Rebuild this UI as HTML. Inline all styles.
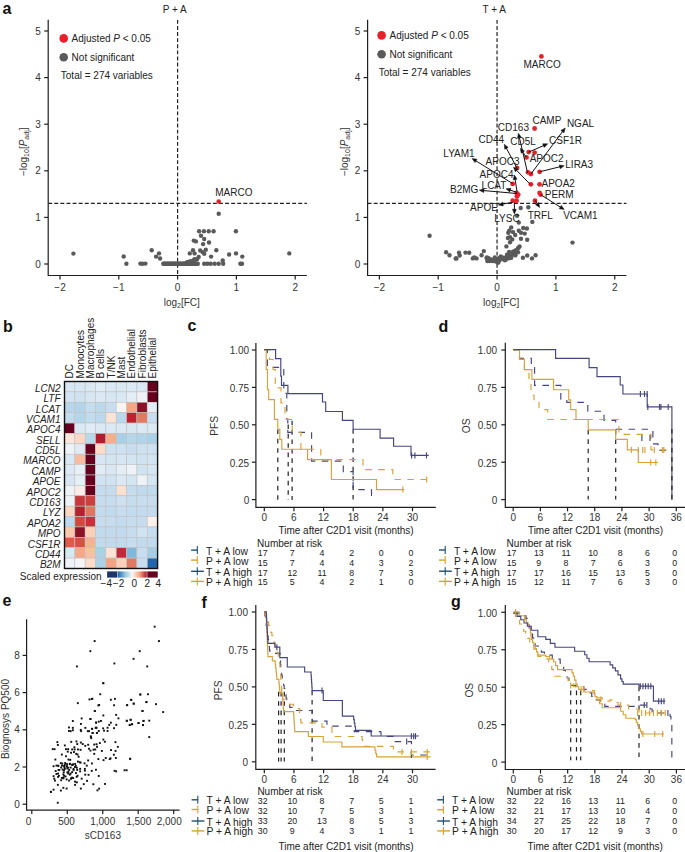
<!DOCTYPE html>
<html><head><meta charset="utf-8"><style>
html,body{margin:0;padding:0;background:#fff;width:685px;height:852px;overflow:hidden}
svg{display:block}
text{font-family:"Liberation Sans",sans-serif}
</style></head><body>
<svg width="685" height="852" viewBox="0 0 685 852">
<rect width="685" height="852" fill="#fff"/>
<text x="2.5" y="13.6" font-size="16" font-weight="bold" fill="#111">a</text>
<line x1="177.60" y1="19.90" x2="177.60" y2="275.50" stroke="#222" stroke-width="1.2" stroke-dasharray="3.9 2.2"/>
<line x1="48.20" y1="203.37" x2="306.90" y2="203.37" stroke="#222" stroke-width="1.2" stroke-dasharray="3.9 2.2"/>
<path d="M48.20 19.7 V275.50 H306.90" fill="none" stroke="#1e1e1e" stroke-width="1.2"/>
<line x1="44.20" y1="264.00" x2="48.20" y2="264.00" stroke="#1e1e1e" stroke-width="1.2" />
<text x="40.8" y="267.6" font-size="10" text-anchor="end" fill="#333" >0</text>
<line x1="44.20" y1="217.40" x2="48.20" y2="217.40" stroke="#1e1e1e" stroke-width="1.2" />
<text x="40.8" y="221.0" font-size="10" text-anchor="end" fill="#333" >1</text>
<line x1="44.20" y1="170.80" x2="48.20" y2="170.80" stroke="#1e1e1e" stroke-width="1.2" />
<text x="40.8" y="174.4" font-size="10" text-anchor="end" fill="#333" >2</text>
<line x1="44.20" y1="124.20" x2="48.20" y2="124.20" stroke="#1e1e1e" stroke-width="1.2" />
<text x="40.8" y="127.8" font-size="10" text-anchor="end" fill="#333" >3</text>
<line x1="44.20" y1="77.60" x2="48.20" y2="77.60" stroke="#1e1e1e" stroke-width="1.2" />
<text x="40.8" y="81.2" font-size="10" text-anchor="end" fill="#333" >4</text>
<line x1="44.20" y1="31.00" x2="48.20" y2="31.00" stroke="#1e1e1e" stroke-width="1.2" />
<text x="40.8" y="34.6" font-size="10" text-anchor="end" fill="#333" >5</text>
<line x1="60.00" y1="275.50" x2="60.00" y2="279.50" stroke="#1e1e1e" stroke-width="1.2" />
<text x="60.0" y="290.9" font-size="10" text-anchor="middle" fill="#333" >&#8722;2</text>
<line x1="118.80" y1="275.50" x2="118.80" y2="279.50" stroke="#1e1e1e" stroke-width="1.2" />
<text x="118.8" y="290.9" font-size="10" text-anchor="middle" fill="#333" >&#8722;1</text>
<line x1="177.60" y1="275.50" x2="177.60" y2="279.50" stroke="#1e1e1e" stroke-width="1.2" />
<text x="177.6" y="290.9" font-size="10" text-anchor="middle" fill="#333" >0</text>
<line x1="236.40" y1="275.50" x2="236.40" y2="279.50" stroke="#1e1e1e" stroke-width="1.2" />
<text x="236.4" y="290.9" font-size="10" text-anchor="middle" fill="#333" >1</text>
<line x1="295.20" y1="275.50" x2="295.20" y2="279.50" stroke="#1e1e1e" stroke-width="1.2" />
<text x="295.2" y="290.9" font-size="10" text-anchor="middle" fill="#333" >2</text>
<text x="181.8" y="306.0" font-size="10" text-anchor="middle" fill="#333" >log<tspan font-size="7" dy="2">2</tspan><tspan dy="-2">[FC]</tspan></text>
<text transform="translate(26.6,151.8) rotate(-90)" font-size="10" text-anchor="middle" fill="#333">&#8722;log<tspan font-size="7" dy="2">10</tspan><tspan dy="-2">[</tspan><tspan font-style="italic">P</tspan><tspan font-size="7" dy="2">adj</tspan><tspan dy="-2">]</tspan></text>
<text x="174.7" y="12.8" font-size="10" text-anchor="middle" fill="#222" >P + A</text>
<circle cx="63.7" cy="38.4" r="4.3" fill="#e8202a"/>
<circle cx="63.7" cy="57.3" r="4.3" fill="#5a5a5a"/>
<text x="71.6" y="42.0" font-size="10" text-anchor="start" fill="#222" >Adjusted <tspan font-style="italic">P</tspan> &lt; 0.05</text>
<text x="71.6" y="60.9" font-size="10" text-anchor="start" fill="#222" >Not significant</text>
<text x="60.8" y="78.8" font-size="10" text-anchor="start" fill="#222" >Total = 274 variables</text>
<circle cx="73.4" cy="253.6" r="2.2" fill="#5a5a5a"/>
<circle cx="123.7" cy="256.5" r="2.2" fill="#5a5a5a"/>
<circle cx="126.4" cy="263.8" r="2.2" fill="#5a5a5a"/>
<circle cx="140.4" cy="263.6" r="2.2" fill="#5a5a5a"/>
<circle cx="145.4" cy="263.6" r="2.2" fill="#5a5a5a"/>
<circle cx="142.4" cy="263.7" r="2.2" fill="#5a5a5a"/>
<circle cx="199.1" cy="231.2" r="2.2" fill="#5a5a5a"/>
<circle cx="203.9" cy="231.2" r="2.2" fill="#5a5a5a"/>
<circle cx="208.7" cy="231.2" r="2.2" fill="#5a5a5a"/>
<circle cx="213.6" cy="231.2" r="2.2" fill="#5a5a5a"/>
<circle cx="235.9" cy="231.2" r="2.2" fill="#5a5a5a"/>
<circle cx="201.0" cy="235.7" r="2.2" fill="#5a5a5a"/>
<circle cx="204.2" cy="239.0" r="2.2" fill="#5a5a5a"/>
<circle cx="193.8" cy="240.6" r="2.2" fill="#5a5a5a"/>
<circle cx="195.9" cy="241.4" r="2.2" fill="#5a5a5a"/>
<circle cx="209.0" cy="242.5" r="2.2" fill="#5a5a5a"/>
<circle cx="203.1" cy="244.1" r="2.2" fill="#5a5a5a"/>
<circle cx="151.7" cy="250.2" r="2.2" fill="#5a5a5a"/>
<circle cx="193.0" cy="250.2" r="2.2" fill="#5a5a5a"/>
<circle cx="200.2" cy="250.5" r="2.2" fill="#5a5a5a"/>
<circle cx="202.6" cy="252.1" r="2.2" fill="#5a5a5a"/>
<circle cx="204.2" cy="253.7" r="2.2" fill="#5a5a5a"/>
<circle cx="205.8" cy="249.7" r="2.2" fill="#5a5a5a"/>
<circle cx="216.3" cy="250.2" r="2.2" fill="#5a5a5a"/>
<circle cx="159.0" cy="253.4" r="2.2" fill="#5a5a5a"/>
<circle cx="156.1" cy="256.6" r="2.2" fill="#5a5a5a"/>
<circle cx="160.1" cy="258.5" r="2.2" fill="#5a5a5a"/>
<circle cx="189.8" cy="253.4" r="2.2" fill="#5a5a5a"/>
<circle cx="194.6" cy="253.4" r="2.2" fill="#5a5a5a"/>
<circle cx="229.1" cy="254.5" r="2.2" fill="#5a5a5a"/>
<circle cx="236.0" cy="253.4" r="2.2" fill="#5a5a5a"/>
<circle cx="242.3" cy="256.6" r="2.2" fill="#5a5a5a"/>
<circle cx="211.1" cy="256.6" r="2.2" fill="#5a5a5a"/>
<circle cx="204.2" cy="263.7" r="2.2" fill="#5a5a5a"/>
<circle cx="207.4" cy="263.7" r="2.2" fill="#5a5a5a"/>
<circle cx="210.7" cy="263.7" r="2.2" fill="#5a5a5a"/>
<circle cx="214.7" cy="263.7" r="2.2" fill="#5a5a5a"/>
<circle cx="218.7" cy="263.7" r="2.2" fill="#5a5a5a"/>
<circle cx="223.2" cy="263.7" r="2.2" fill="#5a5a5a"/>
<circle cx="240.4" cy="263.7" r="2.2" fill="#5a5a5a"/>
<circle cx="242.0" cy="263.7" r="2.2" fill="#5a5a5a"/>
<circle cx="222.7" cy="260.5" r="2.2" fill="#5a5a5a"/>
<circle cx="289.3" cy="253.4" r="2.2" fill="#5a5a5a"/>
<circle cx="218.7" cy="213.7" r="2.2" fill="#5a5a5a"/>
<circle cx="163.3" cy="263.7" r="2.2" fill="#5a5a5a"/>
<circle cx="164.2" cy="263.7" r="2.2" fill="#5a5a5a"/>
<circle cx="165.1" cy="263.7" r="2.2" fill="#5a5a5a"/>
<circle cx="166.0" cy="263.7" r="2.2" fill="#5a5a5a"/>
<circle cx="166.8" cy="263.7" r="2.2" fill="#5a5a5a"/>
<circle cx="167.7" cy="263.7" r="2.2" fill="#5a5a5a"/>
<circle cx="168.6" cy="263.7" r="2.2" fill="#5a5a5a"/>
<circle cx="169.5" cy="263.7" r="2.2" fill="#5a5a5a"/>
<circle cx="170.4" cy="263.7" r="2.2" fill="#5a5a5a"/>
<circle cx="171.3" cy="263.7" r="2.2" fill="#5a5a5a"/>
<circle cx="172.1" cy="263.7" r="2.2" fill="#5a5a5a"/>
<circle cx="173.0" cy="263.7" r="2.2" fill="#5a5a5a"/>
<circle cx="173.9" cy="263.7" r="2.2" fill="#5a5a5a"/>
<circle cx="174.8" cy="263.7" r="2.2" fill="#5a5a5a"/>
<circle cx="175.7" cy="263.7" r="2.2" fill="#5a5a5a"/>
<circle cx="176.6" cy="263.7" r="2.2" fill="#5a5a5a"/>
<circle cx="177.5" cy="263.7" r="2.2" fill="#5a5a5a"/>
<circle cx="178.3" cy="263.7" r="2.2" fill="#5a5a5a"/>
<circle cx="179.2" cy="263.7" r="2.2" fill="#5a5a5a"/>
<circle cx="180.1" cy="263.7" r="2.2" fill="#5a5a5a"/>
<circle cx="181.0" cy="263.7" r="2.2" fill="#5a5a5a"/>
<circle cx="181.9" cy="263.7" r="2.2" fill="#5a5a5a"/>
<circle cx="182.8" cy="263.7" r="2.2" fill="#5a5a5a"/>
<circle cx="183.6" cy="263.7" r="2.2" fill="#5a5a5a"/>
<circle cx="184.5" cy="263.7" r="2.2" fill="#5a5a5a"/>
<circle cx="185.4" cy="263.7" r="2.2" fill="#5a5a5a"/>
<circle cx="186.3" cy="263.7" r="2.2" fill="#5a5a5a"/>
<circle cx="187.2" cy="263.7" r="2.2" fill="#5a5a5a"/>
<circle cx="188.1" cy="263.7" r="2.2" fill="#5a5a5a"/>
<circle cx="189.0" cy="263.7" r="2.2" fill="#5a5a5a"/>
<circle cx="189.8" cy="263.7" r="2.2" fill="#5a5a5a"/>
<circle cx="190.7" cy="263.7" r="2.2" fill="#5a5a5a"/>
<circle cx="191.6" cy="263.7" r="2.2" fill="#5a5a5a"/>
<circle cx="192.5" cy="263.7" r="2.2" fill="#5a5a5a"/>
<circle cx="193.4" cy="263.7" r="2.2" fill="#5a5a5a"/>
<circle cx="194.3" cy="263.7" r="2.2" fill="#5a5a5a"/>
<circle cx="195.1" cy="263.7" r="2.2" fill="#5a5a5a"/>
<circle cx="196.0" cy="263.7" r="2.2" fill="#5a5a5a"/>
<circle cx="196.9" cy="263.7" r="2.2" fill="#5a5a5a"/>
<circle cx="197.8" cy="263.7" r="2.2" fill="#5a5a5a"/>
<circle cx="190.2" cy="261.2" r="2.2" fill="#5a5a5a"/>
<circle cx="194.5" cy="259.1" r="2.2" fill="#5a5a5a"/>
<circle cx="193.0" cy="260.8" r="2.2" fill="#5a5a5a"/>
<circle cx="186.8" cy="262.8" r="2.2" fill="#5a5a5a"/>
<circle cx="186.5" cy="262.9" r="2.2" fill="#5a5a5a"/>
<circle cx="186.9" cy="262.6" r="2.2" fill="#5a5a5a"/>
<circle cx="191.5" cy="262.5" r="2.2" fill="#5a5a5a"/>
<circle cx="187.6" cy="262.4" r="2.2" fill="#5a5a5a"/>
<circle cx="194.2" cy="262.8" r="2.2" fill="#5a5a5a"/>
<circle cx="193.5" cy="260.7" r="2.2" fill="#5a5a5a"/>
<circle cx="198.7" cy="256.9" r="2.2" fill="#5a5a5a"/>
<circle cx="197.2" cy="259.0" r="2.2" fill="#5a5a5a"/>
<circle cx="187.9" cy="262.2" r="2.2" fill="#5a5a5a"/>
<circle cx="190.0" cy="262.6" r="2.2" fill="#5a5a5a"/>
<circle cx="188.3" cy="262.5" r="2.2" fill="#5a5a5a"/>
<circle cx="194.3" cy="260.4" r="2.2" fill="#5a5a5a"/>
<circle cx="218.7" cy="201.5" r="2.3" fill="#e8202a"/>
<text x="233.9" y="195.7" font-size="10" text-anchor="middle" fill="#222" >MARCO</text>
<line x1="497.05" y1="19.90" x2="497.05" y2="275.50" stroke="#222" stroke-width="1.2" stroke-dasharray="3.9 2.2"/>
<line x1="367.60" y1="203.37" x2="626.40" y2="203.37" stroke="#222" stroke-width="1.2" stroke-dasharray="3.9 2.2"/>
<path d="M367.60 19.7 V275.50 H626.40" fill="none" stroke="#1e1e1e" stroke-width="1.2"/>
<line x1="363.60" y1="264.00" x2="367.60" y2="264.00" stroke="#1e1e1e" stroke-width="1.2" />
<text x="360.4" y="267.6" font-size="10" text-anchor="end" fill="#333" >0</text>
<line x1="363.60" y1="217.40" x2="367.60" y2="217.40" stroke="#1e1e1e" stroke-width="1.2" />
<text x="360.4" y="221.0" font-size="10" text-anchor="end" fill="#333" >1</text>
<line x1="363.60" y1="170.80" x2="367.60" y2="170.80" stroke="#1e1e1e" stroke-width="1.2" />
<text x="360.4" y="174.4" font-size="10" text-anchor="end" fill="#333" >2</text>
<line x1="363.60" y1="124.20" x2="367.60" y2="124.20" stroke="#1e1e1e" stroke-width="1.2" />
<text x="360.4" y="127.8" font-size="10" text-anchor="end" fill="#333" >3</text>
<line x1="363.60" y1="77.60" x2="367.60" y2="77.60" stroke="#1e1e1e" stroke-width="1.2" />
<text x="360.4" y="81.2" font-size="10" text-anchor="end" fill="#333" >4</text>
<line x1="363.60" y1="31.00" x2="367.60" y2="31.00" stroke="#1e1e1e" stroke-width="1.2" />
<text x="360.4" y="34.6" font-size="10" text-anchor="end" fill="#333" >5</text>
<line x1="379.35" y1="275.50" x2="379.35" y2="279.50" stroke="#1e1e1e" stroke-width="1.2" />
<text x="379.4" y="290.9" font-size="10" text-anchor="middle" fill="#333" >&#8722;2</text>
<line x1="438.20" y1="275.50" x2="438.20" y2="279.50" stroke="#1e1e1e" stroke-width="1.2" />
<text x="438.2" y="290.9" font-size="10" text-anchor="middle" fill="#333" >&#8722;1</text>
<line x1="497.05" y1="275.50" x2="497.05" y2="279.50" stroke="#1e1e1e" stroke-width="1.2" />
<text x="497.1" y="290.9" font-size="10" text-anchor="middle" fill="#333" >0</text>
<line x1="555.90" y1="275.50" x2="555.90" y2="279.50" stroke="#1e1e1e" stroke-width="1.2" />
<text x="555.9" y="290.9" font-size="10" text-anchor="middle" fill="#333" >1</text>
<line x1="614.75" y1="275.50" x2="614.75" y2="279.50" stroke="#1e1e1e" stroke-width="1.2" />
<text x="614.8" y="290.9" font-size="10" text-anchor="middle" fill="#333" >2</text>
<text x="501.2" y="306.0" font-size="10" text-anchor="middle" fill="#333" >log<tspan font-size="7" dy="2">2</tspan><tspan dy="-2">[FC]</tspan></text>
<text transform="translate(347.8,151.8) rotate(-90)" font-size="10" text-anchor="middle" fill="#333">&#8722;log<tspan font-size="7" dy="2">10</tspan><tspan dy="-2">[</tspan><tspan font-style="italic">P</tspan><tspan font-size="7" dy="2">adj</tspan><tspan dy="-2">]</tspan></text>
<text x="494.2" y="12.8" font-size="10" text-anchor="middle" fill="#222" >T + A</text>
<circle cx="381.6" cy="35.4" r="4.3" fill="#e8202a"/>
<circle cx="381.6" cy="54.2" r="4.3" fill="#5a5a5a"/>
<text x="389.5" y="39.0" font-size="10" text-anchor="start" fill="#222" >Adjusted <tspan font-style="italic">P</tspan> &lt; 0.05</text>
<text x="389.5" y="57.8" font-size="10" text-anchor="start" fill="#222" >Not significant</text>
<text x="378.7" y="75.6" font-size="10" text-anchor="start" fill="#222" >Total = 274 variables</text>
<circle cx="429.6" cy="235.8" r="2.2" fill="#5a5a5a"/>
<circle cx="572.5" cy="242.6" r="2.2" fill="#5a5a5a"/>
<circle cx="520.7" cy="208.0" r="2.2" fill="#5a5a5a"/>
<circle cx="528.3" cy="207.3" r="2.2" fill="#5a5a5a"/>
<circle cx="517.1" cy="215.8" r="2.2" fill="#5a5a5a"/>
<circle cx="518.8" cy="222.6" r="2.2" fill="#5a5a5a"/>
<circle cx="532.3" cy="221.9" r="2.2" fill="#5a5a5a"/>
<circle cx="511.2" cy="227.4" r="2.2" fill="#5a5a5a"/>
<circle cx="523.2" cy="228.0" r="2.2" fill="#5a5a5a"/>
<circle cx="526.9" cy="228.5" r="2.2" fill="#5a5a5a"/>
<circle cx="509.3" cy="230.7" r="2.2" fill="#5a5a5a"/>
<circle cx="508.3" cy="232.8" r="2.2" fill="#5a5a5a"/>
<circle cx="513.0" cy="232.1" r="2.2" fill="#5a5a5a"/>
<circle cx="515.2" cy="235.0" r="2.2" fill="#5a5a5a"/>
<circle cx="518.8" cy="230.7" r="2.2" fill="#5a5a5a"/>
<circle cx="521.0" cy="232.8" r="2.2" fill="#5a5a5a"/>
<circle cx="524.7" cy="233.6" r="2.2" fill="#5a5a5a"/>
<circle cx="507.9" cy="238.0" r="2.2" fill="#5a5a5a"/>
<circle cx="510.0" cy="237.2" r="2.2" fill="#5a5a5a"/>
<circle cx="512.3" cy="239.4" r="2.2" fill="#5a5a5a"/>
<circle cx="510.0" cy="242.3" r="2.2" fill="#5a5a5a"/>
<circle cx="521.0" cy="238.7" r="2.2" fill="#5a5a5a"/>
<circle cx="527.2" cy="239.7" r="2.2" fill="#5a5a5a"/>
<circle cx="506.4" cy="246.4" r="2.2" fill="#5a5a5a"/>
<circle cx="519.6" cy="246.4" r="2.2" fill="#5a5a5a"/>
<circle cx="446.1" cy="252.3" r="2.2" fill="#5a5a5a"/>
<circle cx="449.5" cy="255.2" r="2.2" fill="#5a5a5a"/>
<circle cx="456.4" cy="258.4" r="2.2" fill="#5a5a5a"/>
<circle cx="459.0" cy="252.8" r="2.2" fill="#5a5a5a"/>
<circle cx="459.7" cy="255.5" r="2.2" fill="#5a5a5a"/>
<circle cx="465.5" cy="252.6" r="2.2" fill="#5a5a5a"/>
<circle cx="469.2" cy="252.8" r="2.2" fill="#5a5a5a"/>
<circle cx="472.8" cy="258.4" r="2.2" fill="#5a5a5a"/>
<circle cx="476.5" cy="258.4" r="2.2" fill="#5a5a5a"/>
<circle cx="481.6" cy="255.2" r="2.2" fill="#5a5a5a"/>
<circle cx="483.8" cy="251.1" r="2.2" fill="#5a5a5a"/>
<circle cx="486.7" cy="258.1" r="2.2" fill="#5a5a5a"/>
<circle cx="489.6" cy="261.0" r="2.2" fill="#5a5a5a"/>
<circle cx="491.8" cy="259.6" r="2.2" fill="#5a5a5a"/>
<circle cx="495.5" cy="261.3" r="2.2" fill="#5a5a5a"/>
<circle cx="497.7" cy="259.9" r="2.2" fill="#5a5a5a"/>
<circle cx="522.9" cy="257.7" r="2.2" fill="#5a5a5a"/>
<circle cx="527.2" cy="255.5" r="2.2" fill="#5a5a5a"/>
<circle cx="532.0" cy="258.4" r="2.2" fill="#5a5a5a"/>
<circle cx="535.6" cy="255.2" r="2.2" fill="#5a5a5a"/>
<circle cx="474.3" cy="257.4" r="2.2" fill="#5a5a5a"/>
<circle cx="455.7" cy="258.5" r="2.2" fill="#5a5a5a"/>
<circle cx="509.1" cy="251.9" r="2.2" fill="#5a5a5a"/>
<circle cx="498.3" cy="258.4" r="2.2" fill="#5a5a5a"/>
<circle cx="512.0" cy="253.2" r="2.2" fill="#5a5a5a"/>
<circle cx="503.9" cy="258.4" r="2.2" fill="#5a5a5a"/>
<circle cx="507.0" cy="254.8" r="2.2" fill="#5a5a5a"/>
<circle cx="514.5" cy="254.0" r="2.2" fill="#5a5a5a"/>
<circle cx="502.4" cy="259.1" r="2.2" fill="#5a5a5a"/>
<circle cx="508.6" cy="258.3" r="2.2" fill="#5a5a5a"/>
<circle cx="513.0" cy="251.6" r="2.2" fill="#5a5a5a"/>
<circle cx="518.6" cy="247.6" r="2.2" fill="#5a5a5a"/>
<circle cx="506.2" cy="258.6" r="2.2" fill="#5a5a5a"/>
<circle cx="500.3" cy="259.5" r="2.2" fill="#5a5a5a"/>
<circle cx="497.9" cy="262.1" r="2.2" fill="#5a5a5a"/>
<circle cx="513.8" cy="253.4" r="2.2" fill="#5a5a5a"/>
<circle cx="516.3" cy="250.2" r="2.2" fill="#5a5a5a"/>
<circle cx="512.3" cy="254.3" r="2.2" fill="#5a5a5a"/>
<circle cx="509.8" cy="254.5" r="2.2" fill="#5a5a5a"/>
<circle cx="515.5" cy="255.3" r="2.2" fill="#5a5a5a"/>
<circle cx="507.4" cy="257.3" r="2.2" fill="#5a5a5a"/>
<circle cx="498.3" cy="262.1" r="2.2" fill="#5a5a5a"/>
<circle cx="511.2" cy="257.8" r="2.2" fill="#5a5a5a"/>
<circle cx="515.1" cy="250.6" r="2.2" fill="#5a5a5a"/>
<circle cx="505.5" cy="258.3" r="2.2" fill="#5a5a5a"/>
<circle cx="497.5" cy="260.7" r="2.2" fill="#5a5a5a"/>
<circle cx="500.7" cy="256.5" r="2.2" fill="#5a5a5a"/>
<circle cx="498.3" cy="262.6" r="2.2" fill="#5a5a5a"/>
<circle cx="499.8" cy="257.9" r="2.2" fill="#5a5a5a"/>
<circle cx="505.6" cy="259.7" r="2.2" fill="#5a5a5a"/>
<circle cx="498.8" cy="260.0" r="2.2" fill="#5a5a5a"/>
<circle cx="509.1" cy="258.1" r="2.2" fill="#5a5a5a"/>
<circle cx="515.0" cy="255.0" r="2.2" fill="#5a5a5a"/>
<circle cx="503.1" cy="257.6" r="2.2" fill="#5a5a5a"/>
<circle cx="504.9" cy="260.2" r="2.2" fill="#5a5a5a"/>
<circle cx="518.1" cy="248.1" r="2.2" fill="#5a5a5a"/>
<circle cx="500.9" cy="257.3" r="2.2" fill="#5a5a5a"/>
<circle cx="502.1" cy="258.6" r="2.2" fill="#5a5a5a"/>
<circle cx="510.0" cy="253.0" r="2.2" fill="#5a5a5a"/>
<circle cx="497.1" cy="260.6" r="2.2" fill="#5a5a5a"/>
<circle cx="505.1" cy="257.7" r="2.2" fill="#5a5a5a"/>
<circle cx="518.0" cy="252.2" r="2.2" fill="#5a5a5a"/>
<circle cx="492.7" cy="261.0" r="2.2" fill="#5a5a5a"/>
<circle cx="494.8" cy="257.4" r="2.2" fill="#5a5a5a"/>
<circle cx="497.7" cy="262.1" r="2.2" fill="#5a5a5a"/>
<circle cx="497.4" cy="262.2" r="2.2" fill="#5a5a5a"/>
<circle cx="491.1" cy="259.6" r="2.2" fill="#5a5a5a"/>
<circle cx="487.3" cy="261.1" r="2.2" fill="#5a5a5a"/>
<circle cx="486.8" cy="257.4" r="2.2" fill="#5a5a5a"/>
<circle cx="488.7" cy="258.1" r="2.2" fill="#5a5a5a"/>
<circle cx="541.4" cy="56.4" r="2.4" fill="#e8202a"/>
<circle cx="534.6" cy="128.5" r="2.4" fill="#e8202a"/>
<circle cx="528.7" cy="152.1" r="2.4" fill="#e8202a"/>
<circle cx="534.6" cy="152.6" r="2.4" fill="#e8202a"/>
<circle cx="526.5" cy="157.4" r="2.4" fill="#e8202a"/>
<circle cx="517.1" cy="167.9" r="2.4" fill="#e8202a"/>
<circle cx="528.0" cy="172.3" r="2.4" fill="#e8202a"/>
<circle cx="530.9" cy="174.0" r="2.4" fill="#e8202a"/>
<circle cx="539.6" cy="171.8" r="2.4" fill="#e8202a"/>
<circle cx="530.9" cy="184.3" r="2.4" fill="#e8202a"/>
<circle cx="539.6" cy="184.3" r="2.4" fill="#e8202a"/>
<circle cx="512.7" cy="183.9" r="2.4" fill="#e8202a"/>
<circle cx="516.6" cy="193.0" r="2.4" fill="#e8202a"/>
<circle cx="518.2" cy="194.6" r="2.4" fill="#e8202a"/>
<circle cx="517.0" cy="196.3" r="2.4" fill="#e8202a"/>
<circle cx="539.6" cy="193.0" r="2.4" fill="#e8202a"/>
<circle cx="540.5" cy="194.6" r="2.4" fill="#e8202a"/>
<circle cx="512.7" cy="200.7" r="2.4" fill="#e8202a"/>
<circle cx="516.6" cy="200.7" r="2.4" fill="#e8202a"/>
<circle cx="535.0" cy="200.7" r="2.4" fill="#e8202a"/>
<line x1="527.60" y1="172.90" x2="519.31" y2="137.20" stroke="#111" stroke-width="1.0" />
<path d="M521.34 137.35 L518.40 133.30 L517.55 138.23 Z" fill="#111" stroke="#111" stroke-width="0.5" stroke-linejoin="miter"/>
<line x1="517.00" y1="168.10" x2="506.18" y2="147.83" stroke="#111" stroke-width="1.0" />
<path d="M508.19 147.45 L504.30 144.30 L504.75 149.28 Z" fill="#111" stroke="#111" stroke-width="0.5" stroke-linejoin="miter"/>
<line x1="530.20" y1="184.30" x2="516.29" y2="170.06" stroke="#111" stroke-width="1.0" />
<path d="M518.11 169.13 L513.50 167.20 L515.32 171.86 Z" fill="#111" stroke="#111" stroke-width="0.5" stroke-linejoin="miter"/>
<line x1="526.20" y1="157.20" x2="522.51" y2="151.63" stroke="#111" stroke-width="1.0" />
<path d="M524.47 151.06 L520.30 148.30 L521.22 153.21 Z" fill="#111" stroke="#111" stroke-width="0.5" stroke-linejoin="miter"/>
<line x1="530.90" y1="174.00" x2="562.81" y2="131.21" stroke="#111" stroke-width="1.0" />
<path d="M564.01 132.86 L565.20 128.00 L560.89 130.53 Z" fill="#111" stroke="#111" stroke-width="0.5" stroke-linejoin="miter"/>
<line x1="528.70" y1="152.10" x2="544.03" y2="145.40" stroke="#111" stroke-width="1.0" />
<path d="M544.26 147.43 L547.70 143.80 L542.70 143.86 Z" fill="#111" stroke="#111" stroke-width="0.5" stroke-linejoin="miter"/>
<line x1="539.60" y1="171.80" x2="560.32" y2="166.66" stroke="#111" stroke-width="1.0" />
<path d="M560.20 168.70 L564.20 165.70 L559.26 164.92 Z" fill="#111" stroke="#111" stroke-width="0.5" stroke-linejoin="miter"/>
<line x1="512.60" y1="183.60" x2="475.50" y2="160.61" stroke="#111" stroke-width="1.0" />
<path d="M477.04 159.27 L472.10 158.50 L474.99 162.58 Z" fill="#111" stroke="#111" stroke-width="0.5" stroke-linejoin="miter"/>
<line x1="517.00" y1="193.50" x2="483.28" y2="190.55" stroke="#111" stroke-width="1.0" />
<path d="M484.06 188.66 L479.30 190.20 L483.72 192.54 Z" fill="#111" stroke="#111" stroke-width="0.5" stroke-linejoin="miter"/>
<line x1="517.00" y1="192.40" x2="509.79" y2="189.98" stroke="#111" stroke-width="1.0" />
<path d="M510.99 188.32 L506.00 188.70 L509.74 192.01 Z" fill="#111" stroke="#111" stroke-width="0.5" stroke-linejoin="miter"/>
<line x1="517.00" y1="191.30" x2="515.03" y2="178.85" stroke="#111" stroke-width="1.0" />
<path d="M517.04 179.14 L514.40 174.90 L513.20 179.75 Z" fill="#111" stroke="#111" stroke-width="0.5" stroke-linejoin="miter"/>
<line x1="512.60" y1="202.30" x2="502.33" y2="204.18" stroke="#111" stroke-width="1.0" />
<path d="M502.58 202.16 L498.40 204.90 L503.28 205.99 Z" fill="#111" stroke="#111" stroke-width="0.5" stroke-linejoin="miter"/>
<line x1="514.40" y1="202.30" x2="514.40" y2="209.90" stroke="#111" stroke-width="1.0" />
<path d="M512.45 209.29 L514.40 213.90 L516.35 209.29 Z" fill="#111" stroke="#111" stroke-width="0.5" stroke-linejoin="miter"/>
<line x1="540.50" y1="194.60" x2="560.81" y2="207.37" stroke="#111" stroke-width="1.0" />
<path d="M559.26 208.70 L564.20 209.50 L561.34 205.40 Z" fill="#111" stroke="#111" stroke-width="0.5" stroke-linejoin="miter"/>
<line x1="535.20" y1="200.50" x2="537.47" y2="204.11" stroke="#111" stroke-width="1.0" />
<path d="M535.50 204.64 L539.60 207.50 L538.80 202.56 Z" fill="#111" stroke="#111" stroke-width="0.5" stroke-linejoin="miter"/>
<text x="542.1" y="68.0" font-size="10" text-anchor="middle" fill="#222" >MARCO</text>
<text x="546.9" y="124.4" font-size="10" text-anchor="middle" fill="#222" >CAMP</text>
<text x="580.5" y="126.6" font-size="10" text-anchor="middle" fill="#222" >NGAL</text>
<text x="513.4" y="131.4" font-size="10" text-anchor="middle" fill="#222" >CD163</text>
<text x="491.4" y="143.0" font-size="10" text-anchor="middle" fill="#222" >CD44</text>
<text x="523.1" y="144.8" font-size="10" text-anchor="middle" fill="#222" >CD5L</text>
<text x="565.5" y="144.1" font-size="10" text-anchor="middle" fill="#222" >CSF1R</text>
<text x="546.6" y="162.3" font-size="10" text-anchor="middle" fill="#222" >APOC2</text>
<text x="502.5" y="164.5" font-size="10" text-anchor="middle" fill="#222" >APOC3</text>
<text x="579.2" y="168.2" font-size="10" text-anchor="middle" fill="#222" >LIRA3</text>
<text x="496.5" y="177.6" font-size="10" text-anchor="middle" fill="#222" >APOC4</text>
<text x="558.2" y="187.2" font-size="10" text-anchor="middle" fill="#222" >APOA2</text>
<text x="494.0" y="189.0" font-size="10" text-anchor="middle" fill="#222" >LCAT</text>
<text x="559.2" y="198.2" font-size="10" text-anchor="middle" fill="#222" >PERM</text>
<text x="580.4" y="218.6" font-size="10" text-anchor="middle" fill="#222" >VCAM1</text>
<text x="459.0" y="157.2" font-size="10" text-anchor="middle" fill="#222" >LYAM1</text>
<text x="464.2" y="192.6" font-size="10" text-anchor="middle" fill="#222" >B2MG</text>
<text x="484.0" y="211.3" font-size="10" text-anchor="middle" fill="#222" >APOE</text>
<text x="507.0" y="222.3" font-size="10" text-anchor="middle" fill="#222" >LYSC</text>
<text x="540.2" y="218.8" font-size="10" text-anchor="middle" fill="#222" >TRFL</text>
<text x="3.0" y="331.5" font-size="16" font-weight="bold" fill="#111">b</text>
<rect x="64.50" y="381.50" width="10.34" height="10.39" fill="#d6e6f2" stroke="#c2c2c2" stroke-width="0.6"/>
<rect x="74.84" y="381.50" width="10.34" height="10.39" fill="#d6e6f2" stroke="#c2c2c2" stroke-width="0.6"/>
<rect x="85.19" y="381.50" width="10.34" height="10.39" fill="#d9e8f3" stroke="#c2c2c2" stroke-width="0.6"/>
<rect x="95.53" y="381.50" width="10.34" height="10.39" fill="#dfebf5" stroke="#c2c2c2" stroke-width="0.6"/>
<rect x="105.88" y="381.50" width="10.34" height="10.39" fill="#dae9f4" stroke="#c2c2c2" stroke-width="0.6"/>
<rect x="116.22" y="381.50" width="10.34" height="10.39" fill="#d9e8f3" stroke="#c2c2c2" stroke-width="0.6"/>
<rect x="126.57" y="381.50" width="10.34" height="10.39" fill="#dbe9f4" stroke="#c2c2c2" stroke-width="0.6"/>
<rect x="136.91" y="381.50" width="10.34" height="10.39" fill="#dbe9f4" stroke="#c2c2c2" stroke-width="0.6"/>
<rect x="147.26" y="381.50" width="10.34" height="10.39" fill="#67001f" stroke="#c2c2c2" stroke-width="0.6"/>
<text x="60.5" y="391.7" font-size="10" text-anchor="end" fill="#222" font-style="italic">LCN2</text>
<rect x="64.50" y="391.89" width="10.34" height="10.39" fill="#d2e4f1" stroke="#c2c2c2" stroke-width="0.6"/>
<rect x="74.84" y="391.89" width="10.34" height="10.39" fill="#cfe2f0" stroke="#c2c2c2" stroke-width="0.6"/>
<rect x="85.19" y="391.89" width="10.34" height="10.39" fill="#d6e6f2" stroke="#c2c2c2" stroke-width="0.6"/>
<rect x="95.53" y="391.89" width="10.34" height="10.39" fill="#dbe9f4" stroke="#c2c2c2" stroke-width="0.6"/>
<rect x="105.88" y="391.89" width="10.34" height="10.39" fill="#d6e6f2" stroke="#c2c2c2" stroke-width="0.6"/>
<rect x="116.22" y="391.89" width="10.34" height="10.39" fill="#d9e8f3" stroke="#c2c2c2" stroke-width="0.6"/>
<rect x="126.57" y="391.89" width="10.34" height="10.39" fill="#e3eef6" stroke="#c2c2c2" stroke-width="0.6"/>
<rect x="136.91" y="391.89" width="10.34" height="10.39" fill="#f0f2f5" stroke="#c2c2c2" stroke-width="0.6"/>
<rect x="147.26" y="391.89" width="10.34" height="10.39" fill="#67001f" stroke="#c2c2c2" stroke-width="0.6"/>
<text x="60.5" y="402.1" font-size="10" text-anchor="end" fill="#222" font-style="italic">LTF</text>
<rect x="64.50" y="402.28" width="10.34" height="10.39" fill="#b7d6ea" stroke="#c2c2c2" stroke-width="0.6"/>
<rect x="74.84" y="402.28" width="10.34" height="10.39" fill="#b3d5e9" stroke="#c2c2c2" stroke-width="0.6"/>
<rect x="85.19" y="402.28" width="10.34" height="10.39" fill="#c3ddee" stroke="#c2c2c2" stroke-width="0.6"/>
<rect x="95.53" y="402.28" width="10.34" height="10.39" fill="#bcd9ec" stroke="#c2c2c2" stroke-width="0.6"/>
<rect x="105.88" y="402.28" width="10.34" height="10.39" fill="#c8def0" stroke="#c2c2c2" stroke-width="0.6"/>
<rect x="116.22" y="402.28" width="10.34" height="10.39" fill="#f7f5f0" stroke="#c2c2c2" stroke-width="0.6"/>
<rect x="126.57" y="402.28" width="10.34" height="10.39" fill="#f4a785" stroke="#c2c2c2" stroke-width="0.6"/>
<rect x="136.91" y="402.28" width="10.34" height="10.39" fill="#8a1328" stroke="#c2c2c2" stroke-width="0.6"/>
<rect x="147.26" y="402.28" width="10.34" height="10.39" fill="#e4eef6" stroke="#c2c2c2" stroke-width="0.6"/>
<text x="60.5" y="412.5" font-size="10" text-anchor="end" fill="#222" font-style="italic">LCAT</text>
<rect x="64.50" y="412.67" width="10.34" height="10.39" fill="#c2dced" stroke="#c2c2c2" stroke-width="0.6"/>
<rect x="74.84" y="412.67" width="10.34" height="10.39" fill="#b4d6ea" stroke="#c2c2c2" stroke-width="0.6"/>
<rect x="85.19" y="412.67" width="10.34" height="10.39" fill="#c0dcee" stroke="#c2c2c2" stroke-width="0.6"/>
<rect x="95.53" y="412.67" width="10.34" height="10.39" fill="#bcd8ec" stroke="#c2c2c2" stroke-width="0.6"/>
<rect x="105.88" y="412.67" width="10.34" height="10.39" fill="#fbe3d6" stroke="#c2c2c2" stroke-width="0.6"/>
<rect x="116.22" y="412.67" width="10.34" height="10.39" fill="#b8d8eb" stroke="#c2c2c2" stroke-width="0.6"/>
<rect x="126.57" y="412.67" width="10.34" height="10.39" fill="#c0202f" stroke="#c2c2c2" stroke-width="0.6"/>
<rect x="136.91" y="412.67" width="10.34" height="10.39" fill="#e07a62" stroke="#c2c2c2" stroke-width="0.6"/>
<rect x="147.26" y="412.67" width="10.34" height="10.39" fill="#c8def0" stroke="#c2c2c2" stroke-width="0.6"/>
<text x="60.5" y="422.8" font-size="10" text-anchor="end" fill="#222" font-style="italic">VCAM1</text>
<rect x="64.50" y="423.06" width="10.34" height="10.39" fill="#67001f" stroke="#c2c2c2" stroke-width="0.6"/>
<rect x="74.84" y="423.06" width="10.34" height="10.39" fill="#dbe9f4" stroke="#c2c2c2" stroke-width="0.6"/>
<rect x="85.19" y="423.06" width="10.34" height="10.39" fill="#e0ecf5" stroke="#c2c2c2" stroke-width="0.6"/>
<rect x="95.53" y="423.06" width="10.34" height="10.39" fill="#dbe9f4" stroke="#c2c2c2" stroke-width="0.6"/>
<rect x="105.88" y="423.06" width="10.34" height="10.39" fill="#dae9f4" stroke="#c2c2c2" stroke-width="0.6"/>
<rect x="116.22" y="423.06" width="10.34" height="10.39" fill="#dbe9f4" stroke="#c2c2c2" stroke-width="0.6"/>
<rect x="126.57" y="423.06" width="10.34" height="10.39" fill="#d8e8f3" stroke="#c2c2c2" stroke-width="0.6"/>
<rect x="136.91" y="423.06" width="10.34" height="10.39" fill="#dbe9f4" stroke="#c2c2c2" stroke-width="0.6"/>
<rect x="147.26" y="423.06" width="10.34" height="10.39" fill="#dbe9f4" stroke="#c2c2c2" stroke-width="0.6"/>
<text x="60.5" y="433.2" font-size="10" text-anchor="end" fill="#222" font-style="italic">APOC4</text>
<rect x="64.50" y="433.44" width="10.34" height="10.39" fill="#fbe6dc" stroke="#c2c2c2" stroke-width="0.6"/>
<rect x="74.84" y="433.44" width="10.34" height="10.39" fill="#fbd8c6" stroke="#c2c2c2" stroke-width="0.6"/>
<rect x="85.19" y="433.44" width="10.34" height="10.39" fill="#b8d8eb" stroke="#c2c2c2" stroke-width="0.6"/>
<rect x="95.53" y="433.44" width="10.34" height="10.39" fill="#b01d2c" stroke="#c2c2c2" stroke-width="0.6"/>
<rect x="105.88" y="433.44" width="10.34" height="10.39" fill="#f5ad8c" stroke="#c2c2c2" stroke-width="0.6"/>
<rect x="116.22" y="433.44" width="10.34" height="10.39" fill="#a8cfe6" stroke="#c2c2c2" stroke-width="0.6"/>
<rect x="126.57" y="433.44" width="10.34" height="10.39" fill="#b6d6ea" stroke="#c2c2c2" stroke-width="0.6"/>
<rect x="136.91" y="433.44" width="10.34" height="10.39" fill="#b0d4e9" stroke="#c2c2c2" stroke-width="0.6"/>
<rect x="147.26" y="433.44" width="10.34" height="10.39" fill="#abd0e7" stroke="#c2c2c2" stroke-width="0.6"/>
<text x="60.5" y="443.6" font-size="10" text-anchor="end" fill="#222" font-style="italic">SELL</text>
<rect x="64.50" y="443.83" width="10.34" height="10.39" fill="#eef3f8" stroke="#c2c2c2" stroke-width="0.6"/>
<rect x="74.84" y="443.83" width="10.34" height="10.39" fill="#deebf5" stroke="#c2c2c2" stroke-width="0.6"/>
<rect x="85.19" y="443.83" width="10.34" height="10.39" fill="#67001f" stroke="#c2c2c2" stroke-width="0.6"/>
<rect x="95.53" y="443.83" width="10.34" height="10.39" fill="#fcdbc8" stroke="#c2c2c2" stroke-width="0.6"/>
<rect x="105.88" y="443.83" width="10.34" height="10.39" fill="#cde1f0" stroke="#c2c2c2" stroke-width="0.6"/>
<rect x="116.22" y="443.83" width="10.34" height="10.39" fill="#cde1f0" stroke="#c2c2c2" stroke-width="0.6"/>
<rect x="126.57" y="443.83" width="10.34" height="10.39" fill="#c8def0" stroke="#c2c2c2" stroke-width="0.6"/>
<rect x="136.91" y="443.83" width="10.34" height="10.39" fill="#cde1f0" stroke="#c2c2c2" stroke-width="0.6"/>
<rect x="147.26" y="443.83" width="10.34" height="10.39" fill="#cde1f0" stroke="#c2c2c2" stroke-width="0.6"/>
<text x="60.5" y="454.0" font-size="10" text-anchor="end" fill="#222" font-style="italic">CD5L</text>
<rect x="64.50" y="454.22" width="10.34" height="10.39" fill="#d8e8f3" stroke="#c2c2c2" stroke-width="0.6"/>
<rect x="74.84" y="454.22" width="10.34" height="10.39" fill="#f7bba0" stroke="#c2c2c2" stroke-width="0.6"/>
<rect x="85.19" y="454.22" width="10.34" height="10.39" fill="#67001f" stroke="#c2c2c2" stroke-width="0.6"/>
<rect x="95.53" y="454.22" width="10.34" height="10.39" fill="#d6e6f2" stroke="#c2c2c2" stroke-width="0.6"/>
<rect x="105.88" y="454.22" width="10.34" height="10.39" fill="#d3e5f1" stroke="#c2c2c2" stroke-width="0.6"/>
<rect x="116.22" y="454.22" width="10.34" height="10.39" fill="#d6e6f2" stroke="#c2c2c2" stroke-width="0.6"/>
<rect x="126.57" y="454.22" width="10.34" height="10.39" fill="#d3e5f1" stroke="#c2c2c2" stroke-width="0.6"/>
<rect x="136.91" y="454.22" width="10.34" height="10.39" fill="#d0e3f0" stroke="#c2c2c2" stroke-width="0.6"/>
<rect x="147.26" y="454.22" width="10.34" height="10.39" fill="#d3e5f1" stroke="#c2c2c2" stroke-width="0.6"/>
<text x="60.5" y="464.4" font-size="10" text-anchor="end" fill="#222" font-style="italic">MARCO</text>
<rect x="64.50" y="464.61" width="10.34" height="10.39" fill="#dbe9f4" stroke="#c2c2c2" stroke-width="0.6"/>
<rect x="74.84" y="464.61" width="10.34" height="10.39" fill="#e8f0f7" stroke="#c2c2c2" stroke-width="0.6"/>
<rect x="85.19" y="464.61" width="10.34" height="10.39" fill="#67001f" stroke="#c2c2c2" stroke-width="0.6"/>
<rect x="95.53" y="464.61" width="10.34" height="10.39" fill="#e0ecf5" stroke="#c2c2c2" stroke-width="0.6"/>
<rect x="105.88" y="464.61" width="10.34" height="10.39" fill="#d9e8f3" stroke="#c2c2c2" stroke-width="0.6"/>
<rect x="116.22" y="464.61" width="10.34" height="10.39" fill="#e3eef6" stroke="#c2c2c2" stroke-width="0.6"/>
<rect x="126.57" y="464.61" width="10.34" height="10.39" fill="#eef3f8" stroke="#c2c2c2" stroke-width="0.6"/>
<rect x="136.91" y="464.61" width="10.34" height="10.39" fill="#d0e3f0" stroke="#c2c2c2" stroke-width="0.6"/>
<rect x="147.26" y="464.61" width="10.34" height="10.39" fill="#d6e6f2" stroke="#c2c2c2" stroke-width="0.6"/>
<text x="60.5" y="474.8" font-size="10" text-anchor="end" fill="#222" font-style="italic">CAMP</text>
<rect x="64.50" y="475.00" width="10.34" height="10.39" fill="#d6e6f2" stroke="#c2c2c2" stroke-width="0.6"/>
<rect x="74.84" y="475.00" width="10.34" height="10.39" fill="#e6eff6" stroke="#c2c2c2" stroke-width="0.6"/>
<rect x="85.19" y="475.00" width="10.34" height="10.39" fill="#67001f" stroke="#c2c2c2" stroke-width="0.6"/>
<rect x="95.53" y="475.00" width="10.34" height="10.39" fill="#d0e3f0" stroke="#c2c2c2" stroke-width="0.6"/>
<rect x="105.88" y="475.00" width="10.34" height="10.39" fill="#d0e3f0" stroke="#c2c2c2" stroke-width="0.6"/>
<rect x="116.22" y="475.00" width="10.34" height="10.39" fill="#dbe9f4" stroke="#c2c2c2" stroke-width="0.6"/>
<rect x="126.57" y="475.00" width="10.34" height="10.39" fill="#d4e6f2" stroke="#c2c2c2" stroke-width="0.6"/>
<rect x="136.91" y="475.00" width="10.34" height="10.39" fill="#eef3f8" stroke="#c2c2c2" stroke-width="0.6"/>
<rect x="147.26" y="475.00" width="10.34" height="10.39" fill="#d4e6f2" stroke="#c2c2c2" stroke-width="0.6"/>
<text x="60.5" y="485.2" font-size="10" text-anchor="end" fill="#222" font-style="italic">APOE</text>
<rect x="64.50" y="485.39" width="10.34" height="10.39" fill="#eef3f8" stroke="#c2c2c2" stroke-width="0.6"/>
<rect x="74.84" y="485.39" width="10.34" height="10.39" fill="#faece6" stroke="#c2c2c2" stroke-width="0.6"/>
<rect x="85.19" y="485.39" width="10.34" height="10.39" fill="#67001f" stroke="#c2c2c2" stroke-width="0.6"/>
<rect x="95.53" y="485.39" width="10.34" height="10.39" fill="#c4dcef" stroke="#c2c2c2" stroke-width="0.6"/>
<rect x="105.88" y="485.39" width="10.34" height="10.39" fill="#c4dcee" stroke="#c2c2c2" stroke-width="0.6"/>
<rect x="116.22" y="485.39" width="10.34" height="10.39" fill="#fbe0d0" stroke="#c2c2c2" stroke-width="0.6"/>
<rect x="126.57" y="485.39" width="10.34" height="10.39" fill="#c4dcee" stroke="#c2c2c2" stroke-width="0.6"/>
<rect x="136.91" y="485.39" width="10.34" height="10.39" fill="#c0daee" stroke="#c2c2c2" stroke-width="0.6"/>
<rect x="147.26" y="485.39" width="10.34" height="10.39" fill="#c0daee" stroke="#c2c2c2" stroke-width="0.6"/>
<text x="60.5" y="495.6" font-size="10" text-anchor="end" fill="#222" font-style="italic">APOC2</text>
<rect x="64.50" y="495.78" width="10.34" height="10.39" fill="#eef3f8" stroke="#c2c2c2" stroke-width="0.6"/>
<rect x="74.84" y="495.78" width="10.34" height="10.39" fill="#c8383a" stroke="#c2c2c2" stroke-width="0.6"/>
<rect x="85.19" y="495.78" width="10.34" height="10.39" fill="#cc4040" stroke="#c2c2c2" stroke-width="0.6"/>
<rect x="95.53" y="495.78" width="10.34" height="10.39" fill="#c6dcef" stroke="#c2c2c2" stroke-width="0.6"/>
<rect x="105.88" y="495.78" width="10.34" height="10.39" fill="#c6dcef" stroke="#c2c2c2" stroke-width="0.6"/>
<rect x="116.22" y="495.78" width="10.34" height="10.39" fill="#cde1f0" stroke="#c2c2c2" stroke-width="0.6"/>
<rect x="126.57" y="495.78" width="10.34" height="10.39" fill="#c6dcef" stroke="#c2c2c2" stroke-width="0.6"/>
<rect x="136.91" y="495.78" width="10.34" height="10.39" fill="#c8def0" stroke="#c2c2c2" stroke-width="0.6"/>
<rect x="147.26" y="495.78" width="10.34" height="10.39" fill="#c6dcef" stroke="#c2c2c2" stroke-width="0.6"/>
<text x="60.5" y="506.0" font-size="10" text-anchor="end" fill="#222" font-style="italic">CD163</text>
<rect x="64.50" y="506.17" width="10.34" height="10.39" fill="#fbd8c4" stroke="#c2c2c2" stroke-width="0.6"/>
<rect x="74.84" y="506.17" width="10.34" height="10.39" fill="#b8202e" stroke="#c2c2c2" stroke-width="0.6"/>
<rect x="85.19" y="506.17" width="10.34" height="10.39" fill="#e0765e" stroke="#c2c2c2" stroke-width="0.6"/>
<rect x="95.53" y="506.17" width="10.34" height="10.39" fill="#c2dbee" stroke="#c2c2c2" stroke-width="0.6"/>
<rect x="105.88" y="506.17" width="10.34" height="10.39" fill="#c0daee" stroke="#c2c2c2" stroke-width="0.6"/>
<rect x="116.22" y="506.17" width="10.34" height="10.39" fill="#c6dcef" stroke="#c2c2c2" stroke-width="0.6"/>
<rect x="126.57" y="506.17" width="10.34" height="10.39" fill="#c2dbee" stroke="#c2c2c2" stroke-width="0.6"/>
<rect x="136.91" y="506.17" width="10.34" height="10.39" fill="#c2dbee" stroke="#c2c2c2" stroke-width="0.6"/>
<rect x="147.26" y="506.17" width="10.34" height="10.39" fill="#c2dbee" stroke="#c2c2c2" stroke-width="0.6"/>
<text x="60.5" y="516.3" font-size="10" text-anchor="end" fill="#222" font-style="italic">LYZ</text>
<rect x="64.50" y="516.56" width="10.34" height="10.39" fill="#bed9ed" stroke="#c2c2c2" stroke-width="0.6"/>
<rect x="74.84" y="516.56" width="10.34" height="10.39" fill="#d2483e" stroke="#c2c2c2" stroke-width="0.6"/>
<rect x="85.19" y="516.56" width="10.34" height="10.39" fill="#c8303a" stroke="#c2c2c2" stroke-width="0.6"/>
<rect x="95.53" y="516.56" width="10.34" height="10.39" fill="#c6dcef" stroke="#c2c2c2" stroke-width="0.6"/>
<rect x="105.88" y="516.56" width="10.34" height="10.39" fill="#c6dcef" stroke="#c2c2c2" stroke-width="0.6"/>
<rect x="116.22" y="516.56" width="10.34" height="10.39" fill="#c2dbee" stroke="#c2c2c2" stroke-width="0.6"/>
<rect x="126.57" y="516.56" width="10.34" height="10.39" fill="#c6dcef" stroke="#c2c2c2" stroke-width="0.6"/>
<rect x="136.91" y="516.56" width="10.34" height="10.39" fill="#c6dcef" stroke="#c2c2c2" stroke-width="0.6"/>
<rect x="147.26" y="516.56" width="10.34" height="10.39" fill="#fdf0ea" stroke="#c2c2c2" stroke-width="0.6"/>
<text x="60.5" y="526.7" font-size="10" text-anchor="end" fill="#222" font-style="italic">APOA2</text>
<rect x="64.50" y="526.94" width="10.34" height="10.39" fill="#f9c9ae" stroke="#c2c2c2" stroke-width="0.6"/>
<rect x="74.84" y="526.94" width="10.34" height="10.39" fill="#8a1328" stroke="#c2c2c2" stroke-width="0.6"/>
<rect x="85.19" y="526.94" width="10.34" height="10.39" fill="#fbd0b8" stroke="#c2c2c2" stroke-width="0.6"/>
<rect x="95.53" y="526.94" width="10.34" height="10.39" fill="#c2daee" stroke="#c2c2c2" stroke-width="0.6"/>
<rect x="105.88" y="526.94" width="10.34" height="10.39" fill="#c2daee" stroke="#c2c2c2" stroke-width="0.6"/>
<rect x="116.22" y="526.94" width="10.34" height="10.39" fill="#c2daee" stroke="#c2c2c2" stroke-width="0.6"/>
<rect x="126.57" y="526.94" width="10.34" height="10.39" fill="#c6dcef" stroke="#c2c2c2" stroke-width="0.6"/>
<rect x="136.91" y="526.94" width="10.34" height="10.39" fill="#d0e3f0" stroke="#c2c2c2" stroke-width="0.6"/>
<rect x="147.26" y="526.94" width="10.34" height="10.39" fill="#c6dcef" stroke="#c2c2c2" stroke-width="0.6"/>
<text x="60.5" y="537.1" font-size="10" text-anchor="end" fill="#222" font-style="italic">MPO</text>
<rect x="64.50" y="537.33" width="10.34" height="10.39" fill="#dc5c48" stroke="#c2c2c2" stroke-width="0.6"/>
<rect x="74.84" y="537.33" width="10.34" height="10.39" fill="#d65044" stroke="#c2c2c2" stroke-width="0.6"/>
<rect x="85.19" y="537.33" width="10.34" height="10.39" fill="#f6b294" stroke="#c2c2c2" stroke-width="0.6"/>
<rect x="95.53" y="537.33" width="10.34" height="10.39" fill="#c2daee" stroke="#c2c2c2" stroke-width="0.6"/>
<rect x="105.88" y="537.33" width="10.34" height="10.39" fill="#c2daee" stroke="#c2c2c2" stroke-width="0.6"/>
<rect x="116.22" y="537.33" width="10.34" height="10.39" fill="#c2daee" stroke="#c2c2c2" stroke-width="0.6"/>
<rect x="126.57" y="537.33" width="10.34" height="10.39" fill="#c6dcef" stroke="#c2c2c2" stroke-width="0.6"/>
<rect x="136.91" y="537.33" width="10.34" height="10.39" fill="#c2daee" stroke="#c2c2c2" stroke-width="0.6"/>
<rect x="147.26" y="537.33" width="10.34" height="10.39" fill="#c2daee" stroke="#c2c2c2" stroke-width="0.6"/>
<text x="60.5" y="547.5" font-size="10" text-anchor="end" fill="#222" font-style="italic">CSF1R</text>
<rect x="64.50" y="547.72" width="10.34" height="10.39" fill="#d8e8f3" stroke="#c2c2c2" stroke-width="0.6"/>
<rect x="74.84" y="547.72" width="10.34" height="10.39" fill="#f5a889" stroke="#c2c2c2" stroke-width="0.6"/>
<rect x="85.19" y="547.72" width="10.34" height="10.39" fill="#f8bfa2" stroke="#c2c2c2" stroke-width="0.6"/>
<rect x="95.53" y="547.72" width="10.34" height="10.39" fill="#acd0e6" stroke="#c2c2c2" stroke-width="0.6"/>
<rect x="105.88" y="547.72" width="10.34" height="10.39" fill="#fce3d5" stroke="#c2c2c2" stroke-width="0.6"/>
<rect x="116.22" y="547.72" width="10.34" height="10.39" fill="#c3283a" stroke="#c2c2c2" stroke-width="0.6"/>
<rect x="126.57" y="547.72" width="10.34" height="10.39" fill="#7fb8da" stroke="#c2c2c2" stroke-width="0.6"/>
<rect x="136.91" y="547.72" width="10.34" height="10.39" fill="#c8def0" stroke="#c2c2c2" stroke-width="0.6"/>
<rect x="147.26" y="547.72" width="10.34" height="10.39" fill="#a5cde5" stroke="#c2c2c2" stroke-width="0.6"/>
<text x="60.5" y="557.9" font-size="10" text-anchor="end" fill="#222" font-style="italic">CD44</text>
<rect x="64.50" y="558.11" width="10.34" height="10.39" fill="#eef3f8" stroke="#c2c2c2" stroke-width="0.6"/>
<rect x="74.84" y="558.11" width="10.34" height="10.39" fill="#f5f5f5" stroke="#c2c2c2" stroke-width="0.6"/>
<rect x="85.19" y="558.11" width="10.34" height="10.39" fill="#fcdcc8" stroke="#c2c2c2" stroke-width="0.6"/>
<rect x="95.53" y="558.11" width="10.34" height="10.39" fill="#acd0e6" stroke="#c2c2c2" stroke-width="0.6"/>
<rect x="105.88" y="558.11" width="10.34" height="10.39" fill="#f4a482" stroke="#c2c2c2" stroke-width="0.6"/>
<rect x="116.22" y="558.11" width="10.34" height="10.39" fill="#fbd0b8" stroke="#c2c2c2" stroke-width="0.6"/>
<rect x="126.57" y="558.11" width="10.34" height="10.39" fill="#e07a60" stroke="#c2c2c2" stroke-width="0.6"/>
<rect x="136.91" y="558.11" width="10.34" height="10.39" fill="#c8def0" stroke="#c2c2c2" stroke-width="0.6"/>
<rect x="147.26" y="558.11" width="10.34" height="10.39" fill="#2166ac" stroke="#c2c2c2" stroke-width="0.6"/>
<text x="60.5" y="568.3" font-size="10" text-anchor="end" fill="#222" font-style="italic">B2M</text>
<rect x="64.5" y="381.5" width="93.10" height="187.00" fill="none" stroke="#111" stroke-width="1.4"/>
<text transform="translate(73.27,378.4) rotate(-90)" font-size="10" fill="#222">DC</text>
<text transform="translate(83.62,378.4) rotate(-90)" font-size="10" fill="#222">Monocytes</text>
<text transform="translate(93.96,378.4) rotate(-90)" font-size="10" fill="#222">Macrophages</text>
<text transform="translate(104.31,378.4) rotate(-90)" font-size="10" fill="#222">B cells</text>
<text transform="translate(114.65,378.4) rotate(-90)" font-size="10" fill="#222">T/NK</text>
<text transform="translate(124.99,378.4) rotate(-90)" font-size="10" fill="#222">Mast</text>
<text transform="translate(135.34,378.4) rotate(-90)" font-size="10" fill="#222">Endothelial</text>
<text transform="translate(145.68,378.4) rotate(-90)" font-size="10" fill="#222">Fibroblasts</text>
<text transform="translate(156.03,378.4) rotate(-90)" font-size="10" fill="#222">Epithelial</text>
<defs>
<linearGradient id="gb" x1="0" x2="1"><stop offset="0" stop-color="#2166ac"/><stop offset="0.5" stop-color="#92c5de"/><stop offset="1" stop-color="#f7f7f7"/></linearGradient>
<linearGradient id="gr" x1="0" x2="1"><stop offset="0" stop-color="#f7f7f7"/><stop offset="0.5" stop-color="#f4a582"/><stop offset="1" stop-color="#b2182b"/></linearGradient>
</defs>
<rect x="107.1" y="571.4" width="10.2" height="6.2" fill="#1c3566"/>
<rect x="117.8" y="571.4" width="14.4" height="6.2" fill="url(#gb)"/>
<rect x="132.2" y="571.4" width="14.6" height="6.2" fill="url(#gr)"/>
<rect x="147.3" y="571.4" width="10.4" height="6.2" fill="#67001f"/>
<text x="19.8" y="580.2" font-size="10" text-anchor="start" fill="#222" >Scaled expression</text>
<text x="106.3" y="586.8" font-size="10" text-anchor="middle" fill="#222" >&#8722;4</text>
<text x="118.5" y="586.8" font-size="10" text-anchor="middle" fill="#222" >&#8722;2</text>
<text x="134.4" y="586.8" font-size="10" text-anchor="middle" fill="#222" >0</text>
<text x="147.4" y="586.8" font-size="10" text-anchor="middle" fill="#222" >2</text>
<text x="158.3" y="586.8" font-size="10" text-anchor="middle" fill="#222" >4</text>
<text x="187.6" y="331.2" font-size="16" font-weight="bold" fill="#111">c</text>
<path d="M255.90 342.90 V507.30 H435.80" fill="none" stroke="#1e1e1e" stroke-width="1.2"/>
<line x1="251.90" y1="499.60" x2="255.90" y2="499.60" stroke="#1e1e1e" stroke-width="1.2" />
<text x="249.2" y="504.0" font-size="10" text-anchor="end" fill="#333" >0</text>
<line x1="251.90" y1="462.20" x2="255.90" y2="462.20" stroke="#1e1e1e" stroke-width="1.2" />
<text x="249.2" y="466.6" font-size="10" text-anchor="end" fill="#333" >0.25</text>
<line x1="251.90" y1="424.80" x2="255.90" y2="424.80" stroke="#1e1e1e" stroke-width="1.2" />
<text x="249.2" y="429.2" font-size="10" text-anchor="end" fill="#333" >0.50</text>
<line x1="251.90" y1="387.40" x2="255.90" y2="387.40" stroke="#1e1e1e" stroke-width="1.2" />
<text x="249.2" y="391.8" font-size="10" text-anchor="end" fill="#333" >0.75</text>
<line x1="251.90" y1="350.00" x2="255.90" y2="350.00" stroke="#1e1e1e" stroke-width="1.2" />
<text x="249.2" y="354.4" font-size="10" text-anchor="end" fill="#333" >1.00</text>
<line x1="264.30" y1="507.30" x2="264.30" y2="511.30" stroke="#1e1e1e" stroke-width="1.2" />
<text x="264.3" y="521.1" font-size="10" text-anchor="middle" fill="#333" >0</text>
<line x1="293.94" y1="507.30" x2="293.94" y2="511.30" stroke="#1e1e1e" stroke-width="1.2" />
<text x="293.9" y="521.1" font-size="10" text-anchor="middle" fill="#333" >6</text>
<line x1="323.58" y1="507.30" x2="323.58" y2="511.30" stroke="#1e1e1e" stroke-width="1.2" />
<text x="323.6" y="521.1" font-size="10" text-anchor="middle" fill="#333" >12</text>
<line x1="353.22" y1="507.30" x2="353.22" y2="511.30" stroke="#1e1e1e" stroke-width="1.2" />
<text x="353.2" y="521.1" font-size="10" text-anchor="middle" fill="#333" >18</text>
<line x1="382.86" y1="507.30" x2="382.86" y2="511.30" stroke="#1e1e1e" stroke-width="1.2" />
<text x="382.9" y="521.1" font-size="10" text-anchor="middle" fill="#333" >24</text>
<line x1="412.50" y1="507.30" x2="412.50" y2="511.30" stroke="#1e1e1e" stroke-width="1.2" />
<text x="412.5" y="521.1" font-size="10" text-anchor="middle" fill="#333" >30</text>
<text transform="translate(218.2,425.8) rotate(-90)" font-size="10.2" text-anchor="middle" fill="#333">PFS</text>
<line x1="277.80" y1="429.40" x2="277.80" y2="499.90" stroke="#222" stroke-width="1.2" stroke-dasharray="4.6 4.8"/>
<line x1="288.20" y1="424.40" x2="288.20" y2="499.90" stroke="#222" stroke-width="1.2" stroke-dasharray="4.6 4.8"/>
<line x1="292.10" y1="420.70" x2="292.10" y2="499.90" stroke="#222" stroke-width="1.2" stroke-dasharray="4.6 4.8"/>
<line x1="353.10" y1="429.20" x2="353.10" y2="499.90" stroke="#222" stroke-width="1.2" stroke-dasharray="4.6 4.8"/>
<path d="M264.30 349.60 H267.40 V367.30 H283.80 V393.40 H286.80 V419.40 H287.80 V432.30 H311.60 V461.10 H343.30 V471.60 H353.10 V489.60 H371.50 V498.80 H372.50" fill="none" stroke="#45457f" stroke-width="1.15" stroke-dasharray="6.5 6.5" stroke-linejoin="miter"/>
<path d="M264.30 349.60 H269.60 V359.50 H273.10 V369.50 H275.30 V387.90 H281.00 V402.80 H285.00 V419.40 H292.20 V432.30 H300.90 V449.20 H320.80 V459.60 H363.00 V469.60 H392.80 V479.50 H428.70" fill="none" stroke="#d8a23a" stroke-width="1.15" stroke-dasharray="6.5 6.5" stroke-linejoin="miter"/>
<path d="M264.30 349.60 H266.20 V369.50 H267.50 V389.70 H268.70 V399.60 H274.40 V419.40 H277.80 V429.40 H279.80 V439.30 H281.80 V449.20 H307.60 V459.60 H331.40 V479.50 H376.50 V489.60 H404.40" fill="none" stroke="#d8a23a" stroke-width="1.15"  stroke-linejoin="miter"/>
<path d="M264.30 349.60 H275.60 V358.60 H280.80 V376.10 H281.50 V385.30 H287.90 V393.60 H322.50 V402.00 H325.70 V411.50 H342.40 V420.40 H353.10 V429.20 H380.10 V438.10 H393.60 V446.20 H411.00 V455.40 H428.70" fill="none" stroke="#45457f" stroke-width="1.15"  stroke-linejoin="miter"/>
<line x1="411.60" y1="452.40" x2="411.60" y2="458.40" stroke="#45457f" stroke-width="1.15" />
<line x1="414.90" y1="452.40" x2="414.90" y2="458.40" stroke="#45457f" stroke-width="1.15" />
<line x1="426.50" y1="452.40" x2="426.50" y2="458.40" stroke="#45457f" stroke-width="1.15" />
<line x1="426.70" y1="476.50" x2="426.70" y2="482.50" stroke="#d8a23a" stroke-width="1.15" />
<line x1="402.80" y1="486.60" x2="402.80" y2="492.60" stroke="#d8a23a" stroke-width="1.15" />
<line x1="191.10" y1="550.10" x2="197.70" y2="550.10" stroke="#214f70" stroke-width="1.4" />
<line x1="197.30" y1="546.10" x2="197.30" y2="554.10" stroke="#214f70" stroke-width="1.1" />
<text x="206.0" y="554.6" font-size="10.3" text-anchor="start" fill="#222" >T + A low</text>
<text x="262.7" y="556.2" font-size="8.8" text-anchor="middle" fill="#222" >17</text>
<text x="292.3" y="556.2" font-size="8.8" text-anchor="middle" fill="#222" >7</text>
<text x="322.0" y="556.2" font-size="8.8" text-anchor="middle" fill="#222" >4</text>
<text x="351.6" y="556.2" font-size="8.8" text-anchor="middle" fill="#222" >2</text>
<text x="381.3" y="556.2" font-size="8.8" text-anchor="middle" fill="#222" >0</text>
<text x="410.9" y="556.2" font-size="8.8" text-anchor="middle" fill="#222" >0</text>
<line x1="191.10" y1="560.10" x2="197.70" y2="560.10" stroke="#d6a22c" stroke-width="1.4" />
<line x1="197.30" y1="556.10" x2="197.30" y2="564.10" stroke="#d6a22c" stroke-width="1.1" />
<text x="206.0" y="564.6" font-size="10.3" text-anchor="start" fill="#222" >P + A low</text>
<text x="262.7" y="565.9" font-size="8.8" text-anchor="middle" fill="#222" >15</text>
<text x="292.3" y="565.9" font-size="8.8" text-anchor="middle" fill="#222" >7</text>
<text x="322.0" y="565.9" font-size="8.8" text-anchor="middle" fill="#222" >4</text>
<text x="351.6" y="565.9" font-size="8.8" text-anchor="middle" fill="#222" >4</text>
<text x="381.3" y="565.9" font-size="8.8" text-anchor="middle" fill="#222" >3</text>
<text x="410.9" y="565.9" font-size="8.8" text-anchor="middle" fill="#222" >2</text>
<line x1="191.10" y1="571.30" x2="203.90" y2="571.30" stroke="#214f70" stroke-width="1.4" />
<line x1="197.30" y1="567.30" x2="197.30" y2="575.30" stroke="#214f70" stroke-width="1.1" />
<text x="206.0" y="575.8" font-size="10.3" text-anchor="start" fill="#222" >T + A high</text>
<text x="262.7" y="575.6" font-size="8.8" text-anchor="middle" fill="#222" >17</text>
<text x="292.3" y="575.6" font-size="8.8" text-anchor="middle" fill="#222" >12</text>
<text x="322.0" y="575.6" font-size="8.8" text-anchor="middle" fill="#222" >11</text>
<text x="351.6" y="575.6" font-size="8.8" text-anchor="middle" fill="#222" >8</text>
<text x="381.3" y="575.6" font-size="8.8" text-anchor="middle" fill="#222" >7</text>
<text x="410.9" y="575.6" font-size="8.8" text-anchor="middle" fill="#222" >3</text>
<line x1="191.10" y1="581.40" x2="203.90" y2="581.40" stroke="#d6a22c" stroke-width="1.4" />
<line x1="197.30" y1="577.40" x2="197.30" y2="585.40" stroke="#d6a22c" stroke-width="1.1" />
<text x="206.0" y="585.9" font-size="10.3" text-anchor="start" fill="#222" >P + A high</text>
<text x="262.7" y="585.4" font-size="8.8" text-anchor="middle" fill="#222" >15</text>
<text x="292.3" y="585.4" font-size="8.8" text-anchor="middle" fill="#222" >5</text>
<text x="322.0" y="585.4" font-size="8.8" text-anchor="middle" fill="#222" >4</text>
<text x="351.6" y="585.4" font-size="8.8" text-anchor="middle" fill="#222" >2</text>
<text x="381.3" y="585.4" font-size="8.8" text-anchor="middle" fill="#222" >1</text>
<text x="410.9" y="585.4" font-size="8.8" text-anchor="middle" fill="#222" >0</text>
<text x="257.1" y="546.7" font-size="10" text-anchor="start" fill="#222" >Number at risk</text>
<text x="346.1" y="533.5" font-size="10" text-anchor="middle" fill="#222" >Time after C2D1 visit (months)</text>
<text x="438.6" y="332.4" font-size="16" font-weight="bold" fill="#111">d</text>
<path d="M505.30 342.80 V507.30 H685.50" fill="none" stroke="#1e1e1e" stroke-width="1.2"/>
<line x1="501.30" y1="499.60" x2="505.30" y2="499.60" stroke="#1e1e1e" stroke-width="1.2" />
<text x="497.2" y="504.0" font-size="10" text-anchor="end" fill="#333" >0</text>
<line x1="501.30" y1="462.20" x2="505.30" y2="462.20" stroke="#1e1e1e" stroke-width="1.2" />
<text x="497.2" y="466.6" font-size="10" text-anchor="end" fill="#333" >0.25</text>
<line x1="501.30" y1="424.80" x2="505.30" y2="424.80" stroke="#1e1e1e" stroke-width="1.2" />
<text x="497.2" y="429.2" font-size="10" text-anchor="end" fill="#333" >0.50</text>
<line x1="501.30" y1="387.40" x2="505.30" y2="387.40" stroke="#1e1e1e" stroke-width="1.2" />
<text x="497.2" y="391.8" font-size="10" text-anchor="end" fill="#333" >0.75</text>
<line x1="501.30" y1="350.00" x2="505.30" y2="350.00" stroke="#1e1e1e" stroke-width="1.2" />
<text x="497.2" y="354.4" font-size="10" text-anchor="end" fill="#333" >1.00</text>
<line x1="513.20" y1="507.30" x2="513.20" y2="511.30" stroke="#1e1e1e" stroke-width="1.2" />
<text x="513.2" y="521.1" font-size="10" text-anchor="middle" fill="#333" >0</text>
<line x1="540.38" y1="507.30" x2="540.38" y2="511.30" stroke="#1e1e1e" stroke-width="1.2" />
<text x="540.4" y="521.1" font-size="10" text-anchor="middle" fill="#333" >6</text>
<line x1="567.56" y1="507.30" x2="567.56" y2="511.30" stroke="#1e1e1e" stroke-width="1.2" />
<text x="567.6" y="521.1" font-size="10" text-anchor="middle" fill="#333" >12</text>
<line x1="594.74" y1="507.30" x2="594.74" y2="511.30" stroke="#1e1e1e" stroke-width="1.2" />
<text x="594.7" y="521.1" font-size="10" text-anchor="middle" fill="#333" >18</text>
<line x1="621.92" y1="507.30" x2="621.92" y2="511.30" stroke="#1e1e1e" stroke-width="1.2" />
<text x="621.9" y="521.1" font-size="10" text-anchor="middle" fill="#333" >24</text>
<line x1="649.10" y1="507.30" x2="649.10" y2="511.30" stroke="#1e1e1e" stroke-width="1.2" />
<text x="649.1" y="521.1" font-size="10" text-anchor="middle" fill="#333" >30</text>
<line x1="676.28" y1="507.30" x2="676.28" y2="511.30" stroke="#1e1e1e" stroke-width="1.2" />
<text x="676.3" y="521.1" font-size="10" text-anchor="middle" fill="#333" >36</text>
<text transform="translate(469.7,425.8) rotate(-90)" font-size="10.2" text-anchor="middle" fill="#333">OS</text>
<line x1="588.20" y1="429.90" x2="588.20" y2="499.60" stroke="#222" stroke-width="1.2" stroke-dasharray="4.6 4.8"/>
<line x1="615.70" y1="429.90" x2="615.70" y2="499.60" stroke="#222" stroke-width="1.2" stroke-dasharray="4.6 4.8"/>
<path d="M513.20 349.60 H519.50 V358.40 H531.30 V367.60 H534.60 V385.30 H560.80 V399.10 H566.80 V402.40 H587.80 V411.20 H604.00 V420.40 H615.70 V429.20 H652.90 V443.80 H658.00 V450.40 H668.90" fill="none" stroke="#45457f" stroke-width="1.15" stroke-dasharray="6.5 6.5" stroke-linejoin="miter"/>
<path d="M513.20 349.60 H519.50 V359.40 H524.40 V369.60 H529.00 V382.00 H531.00 V395.20 H534.00 V401.10 H539.00 V409.60 H547.70 V419.50 H588.20 H618.90 V434.30 H651.00 V449.90 H669.70" fill="none" stroke="#d8a23a" stroke-width="1.15" stroke-dasharray="6.5 6.5" stroke-linejoin="miter"/>
<path d="M513.20 349.60 H519.50 V359.40 H524.40 V369.60 H531.90 V379.40 H553.60 V389.70 H568.70 V399.80 H570.70 V409.60 H576.00 V419.50 H588.20 V429.90 H615.70 V439.40 H627.30 V449.90 H638.30 V462.50 H658.00" fill="none" stroke="#d8a23a" stroke-width="1.15"  stroke-linejoin="miter"/>
<path d="M513.20 349.60 H555.60 V358.40 H589.10 V367.60 H597.00 V376.60 H620.20 V385.00 H622.90 V394.00 H647.20 V406.90 H671.90 V499.60" fill="none" stroke="#45457f" stroke-width="1.15"  stroke-linejoin="miter"/>
<line x1="671.90" y1="429.00" x2="671.90" y2="499.60" stroke="#222" stroke-width="1.2" stroke-dasharray="4.6 4.8"/>
<line x1="640.40" y1="391.00" x2="640.40" y2="397.00" stroke="#45457f" stroke-width="1.15" />
<line x1="644.50" y1="391.00" x2="644.50" y2="397.00" stroke="#45457f" stroke-width="1.15" />
<line x1="647.20" y1="391.00" x2="647.20" y2="397.00" stroke="#45457f" stroke-width="1.15" />
<line x1="647.80" y1="403.90" x2="647.80" y2="409.90" stroke="#45457f" stroke-width="1.15" />
<line x1="659.50" y1="403.90" x2="659.50" y2="409.90" stroke="#45457f" stroke-width="1.15" />
<line x1="660.90" y1="403.90" x2="660.90" y2="409.90" stroke="#45457f" stroke-width="1.15" />
<line x1="668.20" y1="403.90" x2="668.20" y2="409.90" stroke="#45457f" stroke-width="1.15" />
<line x1="641.90" y1="435.00" x2="641.90" y2="441.00" stroke="#45457f" stroke-width="1.15" />
<line x1="650.00" y1="435.00" x2="650.00" y2="441.00" stroke="#45457f" stroke-width="1.15" />
<line x1="631.40" y1="446.90" x2="631.40" y2="452.90" stroke="#d8a23a" stroke-width="1.15" />
<line x1="638.30" y1="446.90" x2="638.30" y2="452.90" stroke="#d8a23a" stroke-width="1.15" />
<line x1="642.70" y1="446.90" x2="642.70" y2="452.90" stroke="#d8a23a" stroke-width="1.15" />
<line x1="644.90" y1="446.90" x2="644.90" y2="452.90" stroke="#d8a23a" stroke-width="1.15" />
<line x1="654.30" y1="446.90" x2="654.30" y2="452.90" stroke="#d8a23a" stroke-width="1.15" />
<line x1="662.40" y1="446.90" x2="662.40" y2="452.90" stroke="#d8a23a" stroke-width="1.15" />
<line x1="663.80" y1="446.90" x2="663.80" y2="452.90" stroke="#d8a23a" stroke-width="1.15" />
<line x1="650.70" y1="459.50" x2="650.70" y2="465.50" stroke="#d8a23a" stroke-width="1.15" />
<line x1="655.80" y1="459.50" x2="655.80" y2="465.50" stroke="#d8a23a" stroke-width="1.15" />
<line x1="439.00" y1="550.00" x2="445.60" y2="550.00" stroke="#214f70" stroke-width="1.4" />
<line x1="445.20" y1="546.00" x2="445.20" y2="554.00" stroke="#214f70" stroke-width="1.1" />
<text x="453.9" y="554.5" font-size="10.3" text-anchor="start" fill="#222" >T + A low</text>
<text x="511.6" y="556.2" font-size="8.8" text-anchor="middle" fill="#222" >17</text>
<text x="538.8" y="556.2" font-size="8.8" text-anchor="middle" fill="#222" >13</text>
<text x="566.0" y="556.2" font-size="8.8" text-anchor="middle" fill="#222" >11</text>
<text x="593.1" y="556.2" font-size="8.8" text-anchor="middle" fill="#222" >10</text>
<text x="620.3" y="556.2" font-size="8.8" text-anchor="middle" fill="#222" >8</text>
<text x="647.5" y="556.2" font-size="8.8" text-anchor="middle" fill="#222" >6</text>
<text x="674.7" y="556.2" font-size="8.8" text-anchor="middle" fill="#222" >0</text>
<line x1="439.00" y1="560.10" x2="445.60" y2="560.10" stroke="#d6a22c" stroke-width="1.4" />
<line x1="445.20" y1="556.10" x2="445.20" y2="564.10" stroke="#d6a22c" stroke-width="1.1" />
<text x="453.9" y="564.6" font-size="10.3" text-anchor="start" fill="#222" >P + A low</text>
<text x="511.6" y="565.9" font-size="8.8" text-anchor="middle" fill="#222" >15</text>
<text x="538.8" y="565.9" font-size="8.8" text-anchor="middle" fill="#222" >9</text>
<text x="566.0" y="565.9" font-size="8.8" text-anchor="middle" fill="#222" >8</text>
<text x="593.1" y="565.9" font-size="8.8" text-anchor="middle" fill="#222" >7</text>
<text x="620.3" y="565.9" font-size="8.8" text-anchor="middle" fill="#222" >6</text>
<text x="647.5" y="565.9" font-size="8.8" text-anchor="middle" fill="#222" >3</text>
<text x="674.7" y="565.9" font-size="8.8" text-anchor="middle" fill="#222" >0</text>
<line x1="439.00" y1="571.20" x2="451.80" y2="571.20" stroke="#214f70" stroke-width="1.4" />
<line x1="445.20" y1="567.20" x2="445.20" y2="575.20" stroke="#214f70" stroke-width="1.1" />
<text x="453.9" y="575.7" font-size="10.3" text-anchor="start" fill="#222" >T + A high</text>
<text x="511.6" y="575.6" font-size="8.8" text-anchor="middle" fill="#222" >17</text>
<text x="538.8" y="575.6" font-size="8.8" text-anchor="middle" fill="#222" >17</text>
<text x="566.0" y="575.6" font-size="8.8" text-anchor="middle" fill="#222" >16</text>
<text x="593.1" y="575.6" font-size="8.8" text-anchor="middle" fill="#222" >15</text>
<text x="620.3" y="575.6" font-size="8.8" text-anchor="middle" fill="#222" >13</text>
<text x="647.5" y="575.6" font-size="8.8" text-anchor="middle" fill="#222" >5</text>
<text x="674.7" y="575.6" font-size="8.8" text-anchor="middle" fill="#222" >0</text>
<line x1="439.00" y1="581.40" x2="451.80" y2="581.40" stroke="#d6a22c" stroke-width="1.4" />
<line x1="445.20" y1="577.40" x2="445.20" y2="585.40" stroke="#d6a22c" stroke-width="1.1" />
<text x="453.9" y="585.9" font-size="10.3" text-anchor="start" fill="#222" >P + A high</text>
<text x="511.6" y="585.4" font-size="8.8" text-anchor="middle" fill="#222" >15</text>
<text x="538.8" y="585.4" font-size="8.8" text-anchor="middle" fill="#222" >12</text>
<text x="566.0" y="585.4" font-size="8.8" text-anchor="middle" fill="#222" >11</text>
<text x="593.1" y="585.4" font-size="8.8" text-anchor="middle" fill="#222" >7</text>
<text x="620.3" y="585.4" font-size="8.8" text-anchor="middle" fill="#222" >6</text>
<text x="647.5" y="585.4" font-size="8.8" text-anchor="middle" fill="#222" >3</text>
<text x="674.7" y="585.4" font-size="8.8" text-anchor="middle" fill="#222" >0</text>
<text x="506.6" y="546.9" font-size="10" text-anchor="start" fill="#222" >Number at risk</text>
<text x="595.5" y="533.8" font-size="10" text-anchor="middle" fill="#222" >Time after C2D1 visit (months)</text>
<text x="201.6" y="607.6" font-size="16" font-weight="bold" fill="#111">f</text>
<path d="M255.80 605.10 V769.30 H435.60" fill="none" stroke="#1e1e1e" stroke-width="1.2"/>
<line x1="251.80" y1="761.80" x2="255.80" y2="761.80" stroke="#1e1e1e" stroke-width="1.2" />
<text x="248.0" y="766.2" font-size="10" text-anchor="end" fill="#333" >0</text>
<line x1="251.80" y1="724.35" x2="255.80" y2="724.35" stroke="#1e1e1e" stroke-width="1.2" />
<text x="248.0" y="728.7" font-size="10" text-anchor="end" fill="#333" >0.25</text>
<line x1="251.80" y1="686.90" x2="255.80" y2="686.90" stroke="#1e1e1e" stroke-width="1.2" />
<text x="248.0" y="691.3" font-size="10" text-anchor="end" fill="#333" >0.50</text>
<line x1="251.80" y1="649.45" x2="255.80" y2="649.45" stroke="#1e1e1e" stroke-width="1.2" />
<text x="248.0" y="653.8" font-size="10" text-anchor="end" fill="#333" >0.75</text>
<line x1="251.80" y1="612.00" x2="255.80" y2="612.00" stroke="#1e1e1e" stroke-width="1.2" />
<text x="248.0" y="616.4" font-size="10" text-anchor="end" fill="#333" >1.00</text>
<line x1="264.30" y1="769.30" x2="264.30" y2="773.30" stroke="#1e1e1e" stroke-width="1.2" />
<text x="264.3" y="783.1" font-size="10" text-anchor="middle" fill="#333" >0</text>
<line x1="293.94" y1="769.30" x2="293.94" y2="773.30" stroke="#1e1e1e" stroke-width="1.2" />
<text x="293.9" y="783.1" font-size="10" text-anchor="middle" fill="#333" >6</text>
<line x1="323.58" y1="769.30" x2="323.58" y2="773.30" stroke="#1e1e1e" stroke-width="1.2" />
<text x="323.6" y="783.1" font-size="10" text-anchor="middle" fill="#333" >12</text>
<line x1="353.22" y1="769.30" x2="353.22" y2="773.30" stroke="#1e1e1e" stroke-width="1.2" />
<text x="353.2" y="783.1" font-size="10" text-anchor="middle" fill="#333" >18</text>
<line x1="382.86" y1="769.30" x2="382.86" y2="773.30" stroke="#1e1e1e" stroke-width="1.2" />
<text x="382.9" y="783.1" font-size="10" text-anchor="middle" fill="#333" >24</text>
<line x1="412.50" y1="769.30" x2="412.50" y2="773.30" stroke="#1e1e1e" stroke-width="1.2" />
<text x="412.5" y="783.1" font-size="10" text-anchor="middle" fill="#333" >30</text>
<text transform="translate(221.7,690.4) rotate(-90)" font-size="10.2" text-anchor="middle" fill="#333">PFS</text>
<line x1="278.60" y1="691.80" x2="278.60" y2="761.50" stroke="#222" stroke-width="1.2" stroke-dasharray="4.6 4.8"/>
<line x1="281.10" y1="691.80" x2="281.10" y2="761.50" stroke="#222" stroke-width="1.2" stroke-dasharray="4.6 4.8"/>
<line x1="284.30" y1="691.80" x2="284.30" y2="761.50" stroke="#222" stroke-width="1.2" stroke-dasharray="4.6 4.8"/>
<line x1="312.10" y1="690.60" x2="312.10" y2="761.50" stroke="#222" stroke-width="1.2" stroke-dasharray="4.6 4.8"/>
<path d="M264.43 611.91 H264.89 V615.37 H265.34 V618.82 H265.80 V622.28 H266.25 V625.73 H266.71 V629.18 H267.16 V632.64 H267.62 V636.09 H268.07 V639.55 H268.53 V643.00 H268.98 V646.45 H269.44 V649.91 H269.89 V653.36 H279.82 H280.07 V657.09 H280.32 V660.81 H280.56 V664.53 H280.81 V668.26 H281.06 V671.98 H281.68 V675.29 H282.30 V678.60 H282.92 V681.91 H283.54 V685.22 H284.16 V688.52 H284.78 V691.83 H285.40 V694.94 H286.03 V698.04 H286.65 V701.14 H287.27 V704.24 H289.75 V707.35 H292.23 V710.45 H312.09 H312.25 V714.01 H312.42 V717.56 H312.58 V721.12 H326.98 V726.09 H354.28 V731.55 H379.10 H381.00 V731.50 V736.40 H393.30 V741.60 H411.40 V755.00 H428.90" fill="none" stroke="#45457f" stroke-width="1.15" stroke-dasharray="6.5 6.5" stroke-linejoin="miter"/>
<path d="M264.43 611.91 H265.50 V615.32 H266.56 V618.72 H267.62 V622.13 H268.69 V625.53 H269.75 V628.93 H270.81 V632.34 H271.88 V635.74 H272.94 V639.14 H274.01 V642.55 H275.07 V645.95 H276.13 V649.36 H277.20 V652.76 H278.26 V656.16 H279.32 V659.57 H279.59 V663.18 H279.87 V666.79 H280.14 V670.40 H280.41 V674.01 H280.68 V677.62 H280.95 V681.23 H281.22 V684.84 H281.49 V688.45 H281.76 V692.06 H282.03 V695.67 H282.30 V699.28 H287.27 V704.24 H293.47 V708.59 H299.68 V712.93 H300.09 V716.24 H300.50 V719.55 H300.92 V722.86 H322.01 V727.08 H331.94 V736.51 H361.73 H362.14 V739.82 H362.55 V743.13 H362.97 V746.44 H392.75 H393.37 V749.17 H393.99 V751.90 H425.02 H430.20" fill="none" stroke="#d8a23a" stroke-width="1.15" stroke-dasharray="6.5 6.5" stroke-linejoin="miter"/>
<path d="M264.43 611.91 H265.30 V614.64 H266.17 V617.37 H266.33 V620.94 H266.48 V624.50 H266.64 V628.07 H266.80 V631.63 H266.96 V635.20 H267.12 V638.76 H267.27 V642.33 H267.43 V645.89 H267.59 V649.46 H267.75 V653.02 H267.91 V656.59 H272.37 V660.81 H274.86 H275.25 V664.53 H275.65 V668.26 H276.05 V671.98 H276.44 V675.70 H276.84 V679.42 H278.58 H278.89 V682.84 H279.20 V686.25 H279.51 V689.66 H279.82 V693.08 H282.30 H282.55 V696.80 H282.80 V700.52 H283.05 V704.24 H283.29 V707.97 H283.54 V711.69 H293.47 H293.68 V715.00 H293.88 V718.31 H294.09 V721.62 H294.30 V724.93 H294.51 V728.24 H294.71 V731.55 H307.12 H308.36 V736.51 H323.26 V741.97 H341.87 V746.93 H374.14 H374.96 V750.24 H375.79 V753.55 H376.62 V756.86 H425.02 H430.20 V756.90" fill="none" stroke="#d8a23a" stroke-width="1.15"  stroke-linejoin="miter"/>
<path d="M264.43 611.91 H266.17 H266.36 V615.14 H266.54 V618.37 H266.73 V621.59 H266.91 V624.82 H267.11 V628.54 H267.31 V632.27 H267.51 V635.99 H267.71 V639.71 H267.91 V643.44 H274.86 V647.16 H279.82 V657.58 H287.27 V667.01 H304.64 V671.98 H310.85 H311.09 V675.70 H311.34 V679.42 H311.59 V683.15 H311.84 V686.87 H312.09 V690.59 H323.26 V700.52 H342.37 V716.16 H353.04 H353.66 V719.69 H354.28 V723.23 H354.90 V726.77 H355.52 V730.31 H371.16 V736.01 H417.57 H418.40 V736.20" fill="none" stroke="#45457f" stroke-width="1.15"  stroke-linejoin="miter"/>
<line x1="276.84" y1="644.16" x2="276.84" y2="650.16" stroke="#45457f" stroke-width="1.15" />
<line x1="322.01" y1="687.59" x2="322.01" y2="693.59" stroke="#45457f" stroke-width="1.15" />
<line x1="411.40" y1="733.20" x2="411.40" y2="739.20" stroke="#45457f" stroke-width="1.15" />
<line x1="413.70" y1="733.20" x2="413.70" y2="739.20" stroke="#45457f" stroke-width="1.15" />
<line x1="415.50" y1="733.20" x2="415.50" y2="739.20" stroke="#45457f" stroke-width="1.15" />
<line x1="406.70" y1="738.60" x2="406.70" y2="744.60" stroke="#45457f" stroke-width="1.15" />
<line x1="411.40" y1="752.00" x2="411.40" y2="758.00" stroke="#45457f" stroke-width="1.15" />
<line x1="402.00" y1="748.90" x2="402.00" y2="754.90" stroke="#d8a23a" stroke-width="1.15" />
<line x1="411.40" y1="748.90" x2="411.40" y2="754.90" stroke="#d8a23a" stroke-width="1.15" />
<line x1="427.20" y1="748.90" x2="427.20" y2="754.90" stroke="#d8a23a" stroke-width="1.15" />
<line x1="427.20" y1="753.90" x2="427.20" y2="759.90" stroke="#d8a23a" stroke-width="1.15" />
<line x1="191.60" y1="799.80" x2="198.20" y2="799.80" stroke="#214f70" stroke-width="1.4" />
<line x1="197.80" y1="795.80" x2="197.80" y2="803.80" stroke="#214f70" stroke-width="1.1" />
<text x="206.5" y="804.3" font-size="10.3" text-anchor="start" fill="#222" >T + A low</text>
<text x="262.7" y="804.4" font-size="8.8" text-anchor="middle" fill="#222" >32</text>
<text x="292.3" y="804.4" font-size="8.8" text-anchor="middle" fill="#222" >10</text>
<text x="322.0" y="804.4" font-size="8.8" text-anchor="middle" fill="#222" >8</text>
<text x="351.6" y="804.4" font-size="8.8" text-anchor="middle" fill="#222" >7</text>
<text x="381.3" y="804.4" font-size="8.8" text-anchor="middle" fill="#222" >5</text>
<text x="410.9" y="804.4" font-size="8.8" text-anchor="middle" fill="#222" >1</text>
<line x1="191.60" y1="809.50" x2="198.20" y2="809.50" stroke="#d6a22c" stroke-width="1.4" />
<line x1="197.80" y1="805.50" x2="197.80" y2="813.50" stroke="#d6a22c" stroke-width="1.1" />
<text x="206.5" y="814.0" font-size="10.3" text-anchor="start" fill="#222" >P + A low</text>
<text x="262.7" y="814.2" font-size="8.8" text-anchor="middle" fill="#222" >32</text>
<text x="292.3" y="814.2" font-size="8.8" text-anchor="middle" fill="#222" >10</text>
<text x="322.0" y="814.2" font-size="8.8" text-anchor="middle" fill="#222" >7</text>
<text x="351.6" y="814.2" font-size="8.8" text-anchor="middle" fill="#222" >5</text>
<text x="381.3" y="814.2" font-size="8.8" text-anchor="middle" fill="#222" >3</text>
<text x="410.9" y="814.2" font-size="8.8" text-anchor="middle" fill="#222" >1</text>
<line x1="191.60" y1="821.00" x2="204.40" y2="821.00" stroke="#214f70" stroke-width="1.4" />
<line x1="197.80" y1="817.00" x2="197.80" y2="825.00" stroke="#214f70" stroke-width="1.1" />
<text x="206.5" y="825.5" font-size="10.3" text-anchor="start" fill="#222" >T + A high</text>
<text x="262.7" y="824.1" font-size="8.8" text-anchor="middle" fill="#222" >33</text>
<text x="292.3" y="824.1" font-size="8.8" text-anchor="middle" fill="#222" >20</text>
<text x="322.0" y="824.1" font-size="8.8" text-anchor="middle" fill="#222" >13</text>
<text x="351.6" y="824.1" font-size="8.8" text-anchor="middle" fill="#222" >8</text>
<text x="381.3" y="824.1" font-size="8.8" text-anchor="middle" fill="#222" >5</text>
<text x="410.9" y="824.1" font-size="8.8" text-anchor="middle" fill="#222" >3</text>
<line x1="191.60" y1="830.90" x2="204.40" y2="830.90" stroke="#d6a22c" stroke-width="1.4" />
<line x1="197.80" y1="826.90" x2="197.80" y2="834.90" stroke="#d6a22c" stroke-width="1.1" />
<text x="206.5" y="835.4" font-size="10.3" text-anchor="start" fill="#222" >P + A high</text>
<text x="262.7" y="833.6" font-size="8.8" text-anchor="middle" fill="#222" >30</text>
<text x="292.3" y="833.6" font-size="8.8" text-anchor="middle" fill="#222" >9</text>
<text x="322.0" y="833.6" font-size="8.8" text-anchor="middle" fill="#222" >4</text>
<text x="351.6" y="833.6" font-size="8.8" text-anchor="middle" fill="#222" >3</text>
<text x="381.3" y="833.6" font-size="8.8" text-anchor="middle" fill="#222" >1</text>
<text x="410.9" y="833.6" font-size="8.8" text-anchor="middle" fill="#222" >1</text>
<text x="257.4" y="795.2" font-size="10" text-anchor="start" fill="#222" >Number at risk</text>
<text x="346.1" y="849.8" font-size="10" text-anchor="middle" fill="#222" >Time after C2D1 visit (months)</text>
<text x="451.0" y="607.2" font-size="16" font-weight="bold" fill="#111">g</text>
<path d="M505.30 605.10 V769.50 H685.50" fill="none" stroke="#1e1e1e" stroke-width="1.2"/>
<line x1="501.30" y1="762.10" x2="505.30" y2="762.10" stroke="#1e1e1e" stroke-width="1.2" />
<text x="497.2" y="766.5" font-size="10" text-anchor="end" fill="#333" >0</text>
<line x1="501.30" y1="724.65" x2="505.30" y2="724.65" stroke="#1e1e1e" stroke-width="1.2" />
<text x="497.2" y="729.0" font-size="10" text-anchor="end" fill="#333" >0.25</text>
<line x1="501.30" y1="687.20" x2="505.30" y2="687.20" stroke="#1e1e1e" stroke-width="1.2" />
<text x="497.2" y="691.6" font-size="10" text-anchor="end" fill="#333" >0.50</text>
<line x1="501.30" y1="649.75" x2="505.30" y2="649.75" stroke="#1e1e1e" stroke-width="1.2" />
<text x="497.2" y="654.1" font-size="10" text-anchor="end" fill="#333" >0.75</text>
<line x1="501.30" y1="612.30" x2="505.30" y2="612.30" stroke="#1e1e1e" stroke-width="1.2" />
<text x="497.2" y="616.7" font-size="10" text-anchor="end" fill="#333" >1.00</text>
<line x1="513.30" y1="769.50" x2="513.30" y2="773.50" stroke="#1e1e1e" stroke-width="1.2" />
<text x="513.3" y="783.3" font-size="10" text-anchor="middle" fill="#333" >0</text>
<line x1="540.48" y1="769.50" x2="540.48" y2="773.50" stroke="#1e1e1e" stroke-width="1.2" />
<text x="540.5" y="783.3" font-size="10" text-anchor="middle" fill="#333" >6</text>
<line x1="567.66" y1="769.50" x2="567.66" y2="773.50" stroke="#1e1e1e" stroke-width="1.2" />
<text x="567.7" y="783.3" font-size="10" text-anchor="middle" fill="#333" >12</text>
<line x1="594.84" y1="769.50" x2="594.84" y2="773.50" stroke="#1e1e1e" stroke-width="1.2" />
<text x="594.8" y="783.3" font-size="10" text-anchor="middle" fill="#333" >18</text>
<line x1="622.02" y1="769.50" x2="622.02" y2="773.50" stroke="#1e1e1e" stroke-width="1.2" />
<text x="622.0" y="783.3" font-size="10" text-anchor="middle" fill="#333" >24</text>
<line x1="649.20" y1="769.50" x2="649.20" y2="773.50" stroke="#1e1e1e" stroke-width="1.2" />
<text x="649.2" y="783.3" font-size="10" text-anchor="middle" fill="#333" >30</text>
<line x1="676.38" y1="769.50" x2="676.38" y2="773.50" stroke="#1e1e1e" stroke-width="1.2" />
<text x="676.4" y="783.3" font-size="10" text-anchor="middle" fill="#333" >36</text>
<text transform="translate(472.8,690.2) rotate(-90)" font-size="10.2" text-anchor="middle" fill="#333">OS</text>
<line x1="570.70" y1="690.60" x2="570.70" y2="760.30" stroke="#222" stroke-width="1.2" stroke-dasharray="4.6 4.8"/>
<line x1="576.50" y1="690.60" x2="576.50" y2="760.30" stroke="#222" stroke-width="1.2" stroke-dasharray="4.6 4.8"/>
<line x1="580.70" y1="690.60" x2="580.70" y2="760.30" stroke="#222" stroke-width="1.2" stroke-dasharray="4.6 4.8"/>
<line x1="639.00" y1="686.70" x2="639.00" y2="760.30" stroke="#222" stroke-width="1.2" stroke-dasharray="4.6 4.8"/>
<path d="M513.41 613.14 H519.71 V615.76 H526.02 V618.39 H527.07 V621.54 H528.12 V624.70 H529.17 V627.85 H530.22 V631.00 H531.27 V634.16 H532.59 V638.10 H533.90 V642.04 H535.22 V645.98 H538.28 V649.05 H541.35 V652.11 H544.41 V655.18 H552.29 V659.12 H560.18 V663.06 H561.93 V666.78 H563.68 V670.50 H565.43 V674.22 H567.18 V677.95 H568.93 V681.67 H570.69 V685.39 H575.94 V686.71 H583.82 V689.33 H587.76 V692.84 H591.71 V696.34 H595.65 V699.84 H600.24 V703.13 H604.84 V706.41 H620.61 H640.31 V705.10 H648.19 H650.17 V709.04 H652.14 V712.98 H669.21 H670.09 V716.48 H670.97 V719.99 H671.84 V723.49 V757.65" fill="none" stroke="#45457f" stroke-width="1.15" stroke-dasharray="6.5 6.5" stroke-linejoin="miter"/>
<path d="M513.41 613.14 H515.44 V616.75 H517.48 V620.36 H519.52 V623.98 H521.55 V627.59 H523.59 V631.20 H525.63 V634.81 H527.66 V638.43 H529.70 V642.04 H531.73 V645.65 H533.77 V649.26 H535.81 V652.88 H537.84 V656.49 H547.04 V659.12 H548.62 V662.53 H550.19 V665.95 H551.77 V669.36 H553.34 V672.78 H554.92 V676.20 H565.43 V677.51 H568.06 V680.57 H570.69 V683.64 H573.31 V686.71 H583.82 V690.65 H594.33 V694.59 H598.27 V697.87 H602.21 V701.16 H610.10 V699.84 H614.04 V702.47 H617.98 V705.10 H628.49 V709.04 H639.00 V712.98 H666.59" fill="none" stroke="#d8a23a" stroke-width="1.15" stroke-dasharray="6.5 6.5" stroke-linejoin="miter"/>
<path d="M513.41 611.82 H519.06 V615.76 H524.71 V619.71 H526.46 V622.77 H528.21 V625.84 H529.96 V628.90 H530.40 V632.40 H530.84 V635.91 H531.27 V639.41 H532.59 V642.48 H533.90 V645.54 H535.22 V648.61 H536.53 V651.89 H537.84 V655.18 H545.73 V656.49 H549.67 V659.12 H553.61 V661.74 H555.58 V665.69 H557.55 V669.63 H570.69 H572.00 V672.91 H573.31 V676.20 H574.63 V680.14 H575.94 V684.08 H577.25 V686.71 H578.57 V689.33 H583.82 V691.96 H593.02 V693.27 H594.99 V696.56 H596.96 V699.84 H599.59 V703.78 H602.21 V707.72 H617.98 H620.61 V711.23 H623.23 V714.73 H625.86 V718.23 H635.06 V719.55 H636.37 V722.61 H637.69 V725.68 H639.00 V728.74 H640.31 V731.37 H641.63 V734.00 H663.96" fill="none" stroke="#d8a23a" stroke-width="1.15"  stroke-linejoin="miter"/>
<path d="M513.41 613.14 H517.09 V616.42 H520.76 V619.71 H524.05 V622.99 H527.33 V626.27 H531.27 V630.22 H537.84 V636.78 H545.73 V639.41 H550.32 V643.35 H554.92 V647.29 H574.63 V651.23 H582.51 H584.70 V654.74 H586.89 V658.24 H589.08 V661.74 H607.47 H610.10 V664.81 H612.72 V667.88 H615.35 V670.94 H617.98 V674.88 H620.61 V678.82 H621.92 V681.45 H623.23 V684.08 H639.00 V686.18 H653.45 V701.16 H665.27" fill="none" stroke="#45457f" stroke-width="1.15"  stroke-linejoin="miter"/>
<line x1="640.31" y1="683.18" x2="640.31" y2="689.18" stroke="#45457f" stroke-width="1.15" />
<line x1="642.94" y1="683.18" x2="642.94" y2="689.18" stroke="#45457f" stroke-width="1.15" />
<line x1="645.57" y1="683.18" x2="645.57" y2="689.18" stroke="#45457f" stroke-width="1.15" />
<line x1="648.19" y1="683.18" x2="648.19" y2="689.18" stroke="#45457f" stroke-width="1.15" />
<line x1="650.82" y1="683.18" x2="650.82" y2="689.18" stroke="#45457f" stroke-width="1.15" />
<line x1="658.70" y1="698.16" x2="658.70" y2="704.16" stroke="#45457f" stroke-width="1.15" />
<line x1="661.33" y1="698.16" x2="661.33" y2="704.16" stroke="#45457f" stroke-width="1.15" />
<line x1="663.96" y1="698.16" x2="663.96" y2="704.16" stroke="#45457f" stroke-width="1.15" />
<line x1="644.25" y1="702.10" x2="644.25" y2="708.10" stroke="#45457f" stroke-width="1.15" />
<line x1="646.88" y1="702.10" x2="646.88" y2="708.10" stroke="#45457f" stroke-width="1.15" />
<line x1="661.33" y1="709.98" x2="661.33" y2="715.98" stroke="#45457f" stroke-width="1.15" />
<line x1="667.90" y1="709.98" x2="667.90" y2="715.98" stroke="#45457f" stroke-width="1.15" />
<line x1="637.69" y1="709.98" x2="637.69" y2="715.98" stroke="#d8a23a" stroke-width="1.15" />
<line x1="641.63" y1="709.98" x2="641.63" y2="715.98" stroke="#d8a23a" stroke-width="1.15" />
<line x1="645.57" y1="709.98" x2="645.57" y2="715.98" stroke="#d8a23a" stroke-width="1.15" />
<line x1="649.51" y1="709.98" x2="649.51" y2="715.98" stroke="#d8a23a" stroke-width="1.15" />
<line x1="653.45" y1="709.98" x2="653.45" y2="715.98" stroke="#d8a23a" stroke-width="1.15" />
<line x1="657.39" y1="709.98" x2="657.39" y2="715.98" stroke="#d8a23a" stroke-width="1.15" />
<line x1="661.33" y1="709.98" x2="661.33" y2="715.98" stroke="#d8a23a" stroke-width="1.15" />
<line x1="665.27" y1="709.98" x2="665.27" y2="715.98" stroke="#d8a23a" stroke-width="1.15" />
<line x1="642.94" y1="731.00" x2="642.94" y2="737.00" stroke="#d8a23a" stroke-width="1.15" />
<line x1="654.76" y1="731.00" x2="654.76" y2="737.00" stroke="#d8a23a" stroke-width="1.15" />
<line x1="662.65" y1="731.00" x2="662.65" y2="737.00" stroke="#d8a23a" stroke-width="1.15" />
<line x1="515.51" y1="608.82" x2="515.51" y2="614.82" stroke="#d8a23a" stroke-width="1.15" />
<line x1="524.71" y1="615.39" x2="524.71" y2="621.39" stroke="#d8a23a" stroke-width="1.15" />
<line x1="570.69" y1="682.39" x2="570.69" y2="688.39" stroke="#d8a23a" stroke-width="1.15" />
<line x1="581.20" y1="686.33" x2="581.20" y2="692.33" stroke="#d8a23a" stroke-width="1.15" />
<line x1="600.90" y1="696.32" x2="600.90" y2="702.32" stroke="#d8a23a" stroke-width="1.15" />
<line x1="620.61" y1="702.10" x2="620.61" y2="708.10" stroke="#d8a23a" stroke-width="1.15" />
<line x1="437.20" y1="799.80" x2="443.80" y2="799.80" stroke="#214f70" stroke-width="1.4" />
<line x1="443.40" y1="795.80" x2="443.40" y2="803.80" stroke="#214f70" stroke-width="1.1" />
<text x="452.1" y="804.3" font-size="10.3" text-anchor="start" fill="#222" >T + A low</text>
<text x="511.7" y="804.4" font-size="8.8" text-anchor="middle" fill="#222" >32</text>
<text x="538.9" y="804.4" font-size="8.8" text-anchor="middle" fill="#222" >22</text>
<text x="566.1" y="804.4" font-size="8.8" text-anchor="middle" fill="#222" >16</text>
<text x="593.2" y="804.4" font-size="8.8" text-anchor="middle" fill="#222" >13</text>
<text x="620.4" y="804.4" font-size="8.8" text-anchor="middle" fill="#222" >11</text>
<text x="647.6" y="804.4" font-size="8.8" text-anchor="middle" fill="#222" >6</text>
<text x="674.8" y="804.4" font-size="8.8" text-anchor="middle" fill="#222" >0</text>
<line x1="437.20" y1="809.70" x2="443.80" y2="809.70" stroke="#d6a22c" stroke-width="1.4" />
<line x1="443.40" y1="805.70" x2="443.40" y2="813.70" stroke="#d6a22c" stroke-width="1.1" />
<text x="452.1" y="814.2" font-size="10.3" text-anchor="start" fill="#222" >P + A low</text>
<text x="511.7" y="814.2" font-size="8.8" text-anchor="middle" fill="#222" >32</text>
<text x="538.9" y="814.2" font-size="8.8" text-anchor="middle" fill="#222" >21</text>
<text x="566.1" y="814.2" font-size="8.8" text-anchor="middle" fill="#222" >17</text>
<text x="593.2" y="814.2" font-size="8.8" text-anchor="middle" fill="#222" >13</text>
<text x="620.4" y="814.2" font-size="8.8" text-anchor="middle" fill="#222" >10</text>
<text x="647.6" y="814.2" font-size="8.8" text-anchor="middle" fill="#222" >4</text>
<text x="674.8" y="814.2" font-size="8.8" text-anchor="middle" fill="#222" >0</text>
<line x1="437.20" y1="821.00" x2="450.00" y2="821.00" stroke="#214f70" stroke-width="1.4" />
<line x1="443.40" y1="817.00" x2="443.40" y2="825.00" stroke="#214f70" stroke-width="1.1" />
<text x="452.1" y="825.5" font-size="10.3" text-anchor="start" fill="#222" >T + A high</text>
<text x="511.7" y="824.1" font-size="8.8" text-anchor="middle" fill="#222" >34</text>
<text x="538.9" y="824.1" font-size="8.8" text-anchor="middle" fill="#222" >27</text>
<text x="566.1" y="824.1" font-size="8.8" text-anchor="middle" fill="#222" >25</text>
<text x="593.2" y="824.1" font-size="8.8" text-anchor="middle" fill="#222" >22</text>
<text x="620.4" y="824.1" font-size="8.8" text-anchor="middle" fill="#222" >18</text>
<text x="647.6" y="824.1" font-size="8.8" text-anchor="middle" fill="#222" >7</text>
<text x="674.8" y="824.1" font-size="8.8" text-anchor="middle" fill="#222" >0</text>
<line x1="437.20" y1="830.90" x2="450.00" y2="830.90" stroke="#d6a22c" stroke-width="1.4" />
<line x1="443.40" y1="826.90" x2="443.40" y2="834.90" stroke="#d6a22c" stroke-width="1.1" />
<text x="452.1" y="835.4" font-size="10.3" text-anchor="start" fill="#222" >P + A high</text>
<text x="511.7" y="833.6" font-size="8.8" text-anchor="middle" fill="#222" >30</text>
<text x="538.9" y="833.6" font-size="8.8" text-anchor="middle" fill="#222" >20</text>
<text x="566.1" y="833.6" font-size="8.8" text-anchor="middle" fill="#222" >17</text>
<text x="593.2" y="833.6" font-size="8.8" text-anchor="middle" fill="#222" >12</text>
<text x="620.4" y="833.6" font-size="8.8" text-anchor="middle" fill="#222" >9</text>
<text x="647.6" y="833.6" font-size="8.8" text-anchor="middle" fill="#222" >3</text>
<text x="674.8" y="833.6" font-size="8.8" text-anchor="middle" fill="#222" >0</text>
<text x="506.6" y="795.2" font-size="10" text-anchor="start" fill="#222" >Number at risk</text>
<text x="595.2" y="849.7" font-size="10" text-anchor="middle" fill="#222" >Time after C2D1 visit (months)</text>
<text x="2.6" y="605.8" font-size="16" font-weight="bold" fill="#111">e</text>
<path d="M26.6 619.3 V810.1 H179.6" fill="none" stroke="#1e1e1e" stroke-width="1.2"/>
<line x1="22.60" y1="804.20" x2="26.60" y2="804.20" stroke="#1e1e1e" stroke-width="1.2" />
<text x="19.8" y="807.8" font-size="10" text-anchor="end" fill="#333" >0</text>
<line x1="22.60" y1="767.00" x2="26.60" y2="767.00" stroke="#1e1e1e" stroke-width="1.2" />
<text x="19.8" y="770.6" font-size="10" text-anchor="end" fill="#333" >2</text>
<line x1="22.60" y1="729.80" x2="26.60" y2="729.80" stroke="#1e1e1e" stroke-width="1.2" />
<text x="19.8" y="733.4" font-size="10" text-anchor="end" fill="#333" >4</text>
<line x1="22.60" y1="692.60" x2="26.60" y2="692.60" stroke="#1e1e1e" stroke-width="1.2" />
<text x="19.8" y="696.2" font-size="10" text-anchor="end" fill="#333" >6</text>
<line x1="22.60" y1="655.40" x2="26.60" y2="655.40" stroke="#1e1e1e" stroke-width="1.2" />
<text x="19.8" y="659.0" font-size="10" text-anchor="end" fill="#333" >8</text>
<line x1="31.80" y1="810.10" x2="31.80" y2="814.10" stroke="#1e1e1e" stroke-width="1.2" />
<text x="28.6" y="824.6" font-size="10" text-anchor="middle" fill="#333" >0</text>
<line x1="67.28" y1="810.10" x2="67.28" y2="814.10" stroke="#1e1e1e" stroke-width="1.2" />
<text x="66.6" y="824.6" font-size="10" text-anchor="middle" fill="#333" >500</text>
<line x1="102.75" y1="810.10" x2="102.75" y2="814.10" stroke="#1e1e1e" stroke-width="1.2" />
<text x="102.7" y="824.6" font-size="10" text-anchor="middle" fill="#333" >1,000</text>
<line x1="138.22" y1="810.10" x2="138.22" y2="814.10" stroke="#1e1e1e" stroke-width="1.2" />
<text x="138.7" y="824.6" font-size="10" text-anchor="middle" fill="#333" >1,500</text>
<line x1="173.70" y1="810.10" x2="173.70" y2="814.10" stroke="#1e1e1e" stroke-width="1.2" />
<text x="169.2" y="824.6" font-size="10" text-anchor="middle" fill="#333" >2,000</text>
<text x="102.9" y="839.3" font-size="10" text-anchor="middle" fill="#333" >sCD163</text>
<text transform="translate(8.7,719) rotate(-90)" font-size="10" text-anchor="middle" fill="#333">Biognosys PQ500</text>
<g fill="#111">
<rect x="56.4" y="741.2" width="1.9" height="1.9"/>
<rect x="56.9" y="744.0" width="1.9" height="1.9"/>
<rect x="63.9" y="744.5" width="1.9" height="1.9"/>
<rect x="70.3" y="740.9" width="1.9" height="1.9"/>
<rect x="75.5" y="740.5" width="1.9" height="1.9"/>
<rect x="76.3" y="743.1" width="1.9" height="1.9"/>
<rect x="79.9" y="741.6" width="1.9" height="1.9"/>
<rect x="81.8" y="743.1" width="1.9" height="1.9"/>
<rect x="84.3" y="744.9" width="1.9" height="1.9"/>
<rect x="87.2" y="743.8" width="1.9" height="1.9"/>
<rect x="88.0" y="747.8" width="1.9" height="1.9"/>
<rect x="51.8" y="748.2" width="1.9" height="1.9"/>
<rect x="53.6" y="748.2" width="1.9" height="1.9"/>
<rect x="65.0" y="748.2" width="1.9" height="1.9"/>
<rect x="67.2" y="748.2" width="1.9" height="1.9"/>
<rect x="71.2" y="748.5" width="1.9" height="1.9"/>
<rect x="73.4" y="746.3" width="1.9" height="1.9"/>
<rect x="73.7" y="748.5" width="1.9" height="1.9"/>
<rect x="77.0" y="748.5" width="1.9" height="1.9"/>
<rect x="79.6" y="748.9" width="1.9" height="1.9"/>
<rect x="66.8" y="750.7" width="1.9" height="1.9"/>
<rect x="70.1" y="751.8" width="1.9" height="1.9"/>
<rect x="73.0" y="751.1" width="1.9" height="1.9"/>
<rect x="75.2" y="752.9" width="1.9" height="1.9"/>
<rect x="76.6" y="753.6" width="1.9" height="1.9"/>
<rect x="77.7" y="755.8" width="1.9" height="1.9"/>
<rect x="60.9" y="753.6" width="1.9" height="1.9"/>
<rect x="65.0" y="755.3" width="1.9" height="1.9"/>
<rect x="54.4" y="758.6" width="1.9" height="1.9"/>
<rect x="67.5" y="758.6" width="1.9" height="1.9"/>
<rect x="69.3" y="758.9" width="1.9" height="1.9"/>
<rect x="77.0" y="760.6" width="1.9" height="1.9"/>
<rect x="78.8" y="761.3" width="1.9" height="1.9"/>
<rect x="79.6" y="761.7" width="1.9" height="1.9"/>
<rect x="83.6" y="762.4" width="1.9" height="1.9"/>
<rect x="85.8" y="764.7" width="1.9" height="1.9"/>
<rect x="87.2" y="759.5" width="1.9" height="1.9"/>
<rect x="61.3" y="762.6" width="1.9" height="1.9"/>
<rect x="64.2" y="762.0" width="1.9" height="1.9"/>
<rect x="66.1" y="763.1" width="1.9" height="1.9"/>
<rect x="69.0" y="762.8" width="1.9" height="1.9"/>
<rect x="71.2" y="763.9" width="1.9" height="1.9"/>
<rect x="74.8" y="765.0" width="1.9" height="1.9"/>
<rect x="52.6" y="765.3" width="1.9" height="1.9"/>
<rect x="55.5" y="764.6" width="1.9" height="1.9"/>
<rect x="57.3" y="765.0" width="1.9" height="1.9"/>
<rect x="60.2" y="766.6" width="1.9" height="1.9"/>
<rect x="63.1" y="765.0" width="1.9" height="1.9"/>
<rect x="65.7" y="765.7" width="1.9" height="1.9"/>
<rect x="67.2" y="766.8" width="1.9" height="1.9"/>
<rect x="69.7" y="766.6" width="1.9" height="1.9"/>
<rect x="72.6" y="767.9" width="1.9" height="1.9"/>
<rect x="75.9" y="766.8" width="1.9" height="1.9"/>
<rect x="79.2" y="767.9" width="1.9" height="1.9"/>
<rect x="79.2" y="770.4" width="1.9" height="1.9"/>
<rect x="83.9" y="767.9" width="1.9" height="1.9"/>
<rect x="83.9" y="769.7" width="1.9" height="1.9"/>
<rect x="54.7" y="770.1" width="1.9" height="1.9"/>
<rect x="58.4" y="769.0" width="1.9" height="1.9"/>
<rect x="61.7" y="768.6" width="1.9" height="1.9"/>
<rect x="63.9" y="767.9" width="1.9" height="1.9"/>
<rect x="66.4" y="767.5" width="1.9" height="1.9"/>
<rect x="68.2" y="769.0" width="1.9" height="1.9"/>
<rect x="71.2" y="771.2" width="1.9" height="1.9"/>
<rect x="69.7" y="772.6" width="1.9" height="1.9"/>
<rect x="66.4" y="771.5" width="1.9" height="1.9"/>
<rect x="62.4" y="773.4" width="1.9" height="1.9"/>
<rect x="63.1" y="774.8" width="1.9" height="1.9"/>
<rect x="64.6" y="775.5" width="1.9" height="1.9"/>
<rect x="76.3" y="769.0" width="1.9" height="1.9"/>
<rect x="55.5" y="773.0" width="1.9" height="1.9"/>
<rect x="58.0" y="774.8" width="1.9" height="1.9"/>
<rect x="52.6" y="775.2" width="1.9" height="1.9"/>
<rect x="53.3" y="777.7" width="1.9" height="1.9"/>
<rect x="54.0" y="779.6" width="1.9" height="1.9"/>
<rect x="60.2" y="779.3" width="1.9" height="1.9"/>
<rect x="65.7" y="778.5" width="1.9" height="1.9"/>
<rect x="68.2" y="779.6" width="1.9" height="1.9"/>
<rect x="70.1" y="777.7" width="1.9" height="1.9"/>
<rect x="74.1" y="780.7" width="1.9" height="1.9"/>
<rect x="75.9" y="781.4" width="1.9" height="1.9"/>
<rect x="76.6" y="774.8" width="1.9" height="1.9"/>
<rect x="80.7" y="777.7" width="1.9" height="1.9"/>
<rect x="84.3" y="773.7" width="1.9" height="1.9"/>
<rect x="87.6" y="773.9" width="1.9" height="1.9"/>
<rect x="86.1" y="779.9" width="1.9" height="1.9"/>
<rect x="56.9" y="783.9" width="1.9" height="1.9"/>
<rect x="74.1" y="783.9" width="1.9" height="1.9"/>
<rect x="82.8" y="783.2" width="1.9" height="1.9"/>
<rect x="62.4" y="786.9" width="1.9" height="1.9"/>
<rect x="65.7" y="787.6" width="1.9" height="1.9"/>
<rect x="79.9" y="787.6" width="1.9" height="1.9"/>
<rect x="52.6" y="788.7" width="1.9" height="1.9"/>
<rect x="50.0" y="791.0" width="1.9" height="1.9"/>
<rect x="59.9" y="789.6" width="1.9" height="1.9"/>
<rect x="88.5" y="698.5" width="1.9" height="1.9"/>
<rect x="91.4" y="697.8" width="1.9" height="1.9"/>
<rect x="76.9" y="702.2" width="1.9" height="1.9"/>
<rect x="93.8" y="710.1" width="1.9" height="1.9"/>
<rect x="80.7" y="717.5" width="1.9" height="1.9"/>
<rect x="89.4" y="718.1" width="1.9" height="1.9"/>
<rect x="71.9" y="720.1" width="1.9" height="1.9"/>
<rect x="80.0" y="723.0" width="1.9" height="1.9"/>
<rect x="95.1" y="721.6" width="1.9" height="1.9"/>
<rect x="68.0" y="726.5" width="1.9" height="1.9"/>
<rect x="71.9" y="726.9" width="1.9" height="1.9"/>
<rect x="68.0" y="730.0" width="1.9" height="1.9"/>
<rect x="69.7" y="730.2" width="1.9" height="1.9"/>
<rect x="71.9" y="729.3" width="1.9" height="1.9"/>
<rect x="79.8" y="728.9" width="1.9" height="1.9"/>
<rect x="80.2" y="730.2" width="1.9" height="1.9"/>
<rect x="84.4" y="726.9" width="1.9" height="1.9"/>
<rect x="86.8" y="730.2" width="1.9" height="1.9"/>
<rect x="88.1" y="730.2" width="1.9" height="1.9"/>
<rect x="91.2" y="727.9" width="1.9" height="1.9"/>
<rect x="95.1" y="726.9" width="1.9" height="1.9"/>
<rect x="91.6" y="732.0" width="1.9" height="1.9"/>
<rect x="96.0" y="732.0" width="1.9" height="1.9"/>
<rect x="89.9" y="735.5" width="1.9" height="1.9"/>
<rect x="90.3" y="737.2" width="1.9" height="1.9"/>
<rect x="102.4" y="682.4" width="1.9" height="1.9"/>
<rect x="99.3" y="693.3" width="1.9" height="1.9"/>
<rect x="90.8" y="698.1" width="1.9" height="1.9"/>
<rect x="109.9" y="698.8" width="1.9" height="1.9"/>
<rect x="114.0" y="697.9" width="1.9" height="1.9"/>
<rect x="97.4" y="704.5" width="1.9" height="1.9"/>
<rect x="98.2" y="704.0" width="1.9" height="1.9"/>
<rect x="113.1" y="704.3" width="1.9" height="1.9"/>
<rect x="130.2" y="699.0" width="1.9" height="1.9"/>
<rect x="132.8" y="702.7" width="1.9" height="1.9"/>
<rect x="126.3" y="704.3" width="1.9" height="1.9"/>
<rect x="139.4" y="693.5" width="1.9" height="1.9"/>
<rect x="145.5" y="701.1" width="1.9" height="1.9"/>
<rect x="141.6" y="710.1" width="1.9" height="1.9"/>
<rect x="93.9" y="710.1" width="1.9" height="1.9"/>
<rect x="102.4" y="714.5" width="1.9" height="1.9"/>
<rect x="115.2" y="713.9" width="1.9" height="1.9"/>
<rect x="117.5" y="717.4" width="1.9" height="1.9"/>
<rect x="89.5" y="718.0" width="1.9" height="1.9"/>
<rect x="95.2" y="721.7" width="1.9" height="1.9"/>
<rect x="97.8" y="720.7" width="1.9" height="1.9"/>
<rect x="100.0" y="720.0" width="1.9" height="1.9"/>
<rect x="109.9" y="721.7" width="1.9" height="1.9"/>
<rect x="108.3" y="723.9" width="1.9" height="1.9"/>
<rect x="115.3" y="723.9" width="1.9" height="1.9"/>
<rect x="125.8" y="719.8" width="1.9" height="1.9"/>
<rect x="129.8" y="718.9" width="1.9" height="1.9"/>
<rect x="128.9" y="723.9" width="1.9" height="1.9"/>
<rect x="131.1" y="723.3" width="1.9" height="1.9"/>
<rect x="137.7" y="722.1" width="1.9" height="1.9"/>
<rect x="142.5" y="720.0" width="1.9" height="1.9"/>
<rect x="142.0" y="724.2" width="1.9" height="1.9"/>
<rect x="91.0" y="727.9" width="1.9" height="1.9"/>
<rect x="94.7" y="726.8" width="1.9" height="1.9"/>
<rect x="95.6" y="726.8" width="1.9" height="1.9"/>
<rect x="102.2" y="727.4" width="1.9" height="1.9"/>
<rect x="103.1" y="729.7" width="1.9" height="1.9"/>
<rect x="106.6" y="726.8" width="1.9" height="1.9"/>
<rect x="106.6" y="730.0" width="1.9" height="1.9"/>
<rect x="113.1" y="727.2" width="1.9" height="1.9"/>
<rect x="91.7" y="732.0" width="1.9" height="1.9"/>
<rect x="95.9" y="732.0" width="1.9" height="1.9"/>
<rect x="97.8" y="730.0" width="1.9" height="1.9"/>
<rect x="89.9" y="735.8" width="1.9" height="1.9"/>
<rect x="102.4" y="738.6" width="1.9" height="1.9"/>
<rect x="103.9" y="740.8" width="1.9" height="1.9"/>
<rect x="114.5" y="741.2" width="1.9" height="1.9"/>
<rect x="93.3" y="743.6" width="1.9" height="1.9"/>
<rect x="95.6" y="743.3" width="1.9" height="1.9"/>
<rect x="98.9" y="742.1" width="1.9" height="1.9"/>
<rect x="96.1" y="745.9" width="1.9" height="1.9"/>
<rect x="116.9" y="745.9" width="1.9" height="1.9"/>
<rect x="89.5" y="749.6" width="1.9" height="1.9"/>
<rect x="92.6" y="748.7" width="1.9" height="1.9"/>
<rect x="94.3" y="748.5" width="1.9" height="1.9"/>
<rect x="100.9" y="750.0" width="1.9" height="1.9"/>
<rect x="110.1" y="749.1" width="1.9" height="1.9"/>
<rect x="114.6" y="750.0" width="1.9" height="1.9"/>
<rect x="93.3" y="752.9" width="1.9" height="1.9"/>
<rect x="112.9" y="753.8" width="1.9" height="1.9"/>
<rect x="97.4" y="758.1" width="1.9" height="1.9"/>
<rect x="102.6" y="759.2" width="1.9" height="1.9"/>
<rect x="104.8" y="757.0" width="1.9" height="1.9"/>
<rect x="108.8" y="758.1" width="1.9" height="1.9"/>
<rect x="109.6" y="757.4" width="1.9" height="1.9"/>
<rect x="114.9" y="757.0" width="1.9" height="1.9"/>
<rect x="129.2" y="757.9" width="1.9" height="1.9"/>
<rect x="91.0" y="762.5" width="1.9" height="1.9"/>
<rect x="90.8" y="769.9" width="1.9" height="1.9"/>
<rect x="95.0" y="768.8" width="1.9" height="1.9"/>
<rect x="113.6" y="769.9" width="1.9" height="1.9"/>
<rect x="115.2" y="770.4" width="1.9" height="1.9"/>
<rect x="123.6" y="769.3" width="1.9" height="1.9"/>
<rect x="125.7" y="769.3" width="1.9" height="1.9"/>
<rect x="97.8" y="775.0" width="1.9" height="1.9"/>
<rect x="92.4" y="783.3" width="1.9" height="1.9"/>
<rect x="104.1" y="783.0" width="1.9" height="1.9"/>
<rect x="96.5" y="789.4" width="1.9" height="1.9"/>
<rect x="98.2" y="787.7" width="1.9" height="1.9"/>
<rect x="153.7" y="625.7" width="1.9" height="1.9"/>
<rect x="158.0" y="640.1" width="1.9" height="1.9"/>
<rect x="93.7" y="640.1" width="1.9" height="1.9"/>
<rect x="89.4" y="650.2" width="1.9" height="1.9"/>
<rect x="138.8" y="650.2" width="1.9" height="1.9"/>
<rect x="132.6" y="657.9" width="1.9" height="1.9"/>
<rect x="113.4" y="662.5" width="1.9" height="1.9"/>
<rect x="76.0" y="665.5" width="1.9" height="1.9"/>
<rect x="146.3" y="665.5" width="1.9" height="1.9"/>
<rect x="102.3" y="682.1" width="1.9" height="1.9"/>
<rect x="139.3" y="693.6" width="1.9" height="1.9"/>
<rect x="147.0" y="693.3" width="1.9" height="1.9"/>
<rect x="130.3" y="698.8" width="1.9" height="1.9"/>
<rect x="132.7" y="702.7" width="1.9" height="1.9"/>
<rect x="126.1" y="704.1" width="1.9" height="1.9"/>
<rect x="145.4" y="701.2" width="1.9" height="1.9"/>
<rect x="155.1" y="703.2" width="1.9" height="1.9"/>
<rect x="141.5" y="710.0" width="1.9" height="1.9"/>
<rect x="162.2" y="711.1" width="1.9" height="1.9"/>
<rect x="125.9" y="719.9" width="1.9" height="1.9"/>
<rect x="129.6" y="718.8" width="1.9" height="1.9"/>
<rect x="128.7" y="724.1" width="1.9" height="1.9"/>
<rect x="131.2" y="723.2" width="1.9" height="1.9"/>
<rect x="137.5" y="722.1" width="1.9" height="1.9"/>
<rect x="142.6" y="719.9" width="1.9" height="1.9"/>
<rect x="142.1" y="724.1" width="1.9" height="1.9"/>
<rect x="148.3" y="719.7" width="1.9" height="1.9"/>
<rect x="148.3" y="736.1" width="1.9" height="1.9"/>
<rect x="129.2" y="757.8" width="1.9" height="1.9"/>
<rect x="56.8" y="801.8" width="1.9" height="1.9"/>
<rect x="49.9" y="790.8" width="1.9" height="1.9"/>
<rect x="68.9" y="773.7" width="1.9" height="1.9"/>
<rect x="72.2" y="777.1" width="1.9" height="1.9"/>
<rect x="71.1" y="776.7" width="1.9" height="1.9"/>
<rect x="57.6" y="769.0" width="1.9" height="1.9"/>
<rect x="75.0" y="772.1" width="1.9" height="1.9"/>
<rect x="74.2" y="763.0" width="1.9" height="1.9"/>
<rect x="66.0" y="765.2" width="1.9" height="1.9"/>
<rect x="67.4" y="770.8" width="1.9" height="1.9"/>
<rect x="57.3" y="764.7" width="1.9" height="1.9"/>
<rect x="62.4" y="776.6" width="1.9" height="1.9"/>
<rect x="71.6" y="763.8" width="1.9" height="1.9"/>
<rect x="72.2" y="763.4" width="1.9" height="1.9"/>
<rect x="68.8" y="763.2" width="1.9" height="1.9"/>
<rect x="57.1" y="775.9" width="1.9" height="1.9"/>
<rect x="61.0" y="764.7" width="1.9" height="1.9"/>
<rect x="75.7" y="775.9" width="1.9" height="1.9"/>
<rect x="62.5" y="777.4" width="1.9" height="1.9"/>
<rect x="67.3" y="772.6" width="1.9" height="1.9"/>
<rect x="60.9" y="777.0" width="1.9" height="1.9"/>
<rect x="70.2" y="777.5" width="1.9" height="1.9"/>
<rect x="74.0" y="766.1" width="1.9" height="1.9"/>
<rect x="63.9" y="763.9" width="1.9" height="1.9"/>
<rect x="59.8" y="762.2" width="1.9" height="1.9"/>
<rect x="62.8" y="771.3" width="1.9" height="1.9"/>
<rect x="57.1" y="772.6" width="1.9" height="1.9"/>
<rect x="63.5" y="766.3" width="1.9" height="1.9"/>
<rect x="72.6" y="769.2" width="1.9" height="1.9"/>
<rect x="63.1" y="769.2" width="1.9" height="1.9"/>
</g>
</svg></body></html>
